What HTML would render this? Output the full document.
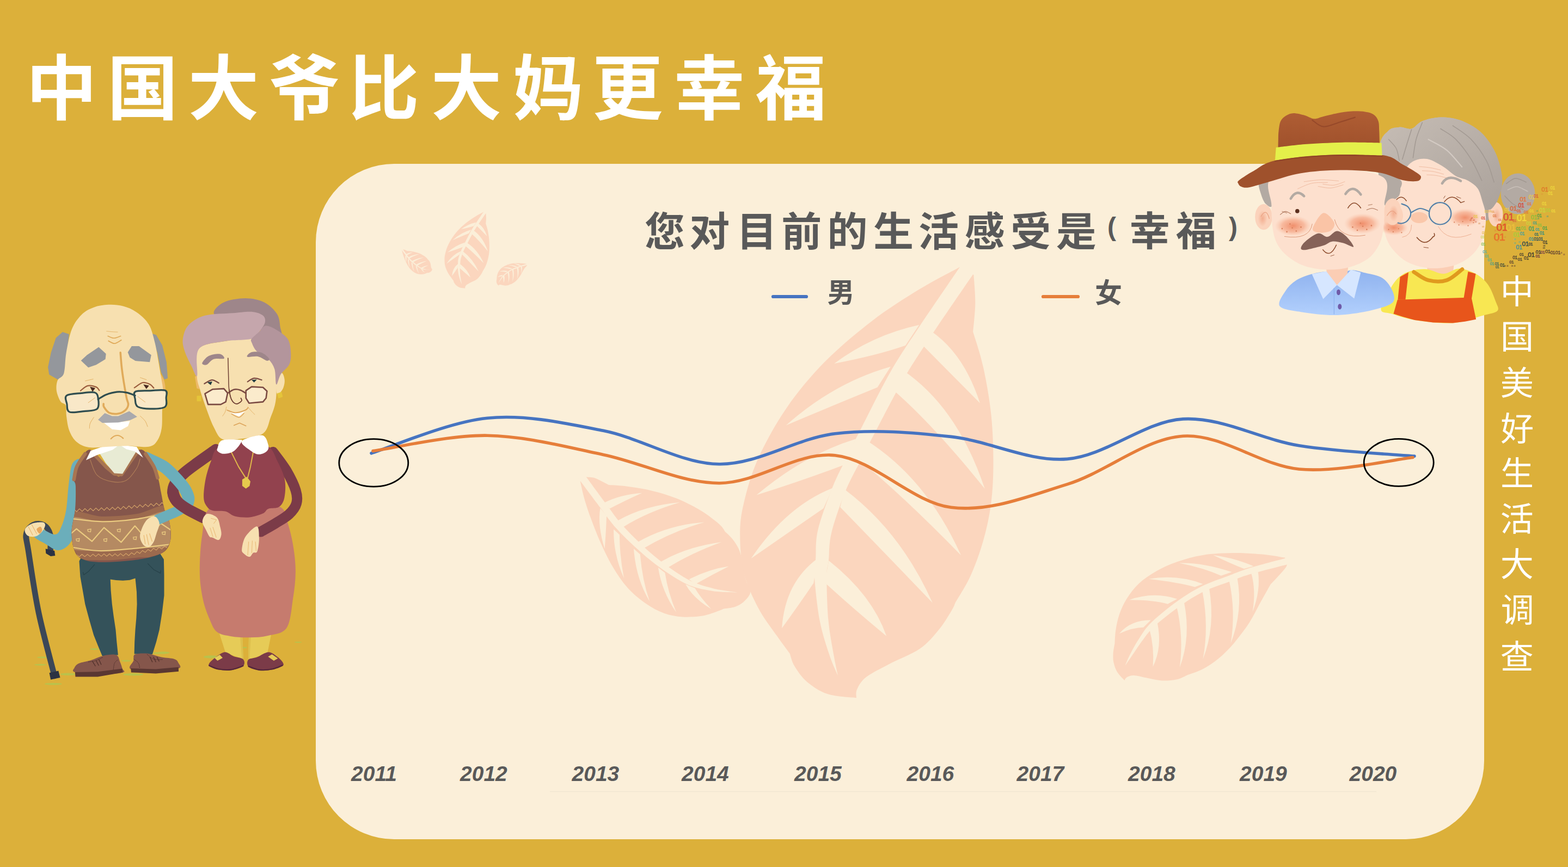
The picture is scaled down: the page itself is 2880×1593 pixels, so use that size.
<!DOCTYPE html>
<html><head><meta charset="utf-8"><title>Chart</title>
<style>
html,body{margin:0;padding:0;background:#DCB03A;}
.t{position:absolute;margin:0;color:transparent;white-space:nowrap;font-weight:700;line-height:1;overflow:hidden;}
body{width:2880px;height:1593px;background:#DCB03A;overflow:hidden;position:relative;font-family:"Liberation Sans",sans-serif;}
#panel{position:absolute;left:580px;top:301px;width:2146px;height:1241px;background:#FBEFD9;border-radius:144px 0 144px 144px;}
svg{position:absolute;left:0;top:0;}
</style></head><body>
<div id="panel"></div>
<h1 class="t" style="left:46px;top:92px;width:1480px;height:134px;font-size:130px;letter-spacing:18px">中国大爷比大妈更幸福</h1>
<h2 class="t" style="left:1182px;top:386px;width:1100px;height:76px;font-size:74px;letter-spacing:10px">您对目前的生活感受是(幸福)</h2>
<span class="t" style="left:1520px;top:512px;width:50px;height:50px;font-size:48px">男</span>
<span class="t" style="left:2012px;top:512px;width:50px;height:50px;font-size:48px">女</span>
<div class="t" style="left:2756px;top:504px;width:62px;height:740px;font-size:60px;line-height:83.4px;white-space:normal;word-break:break-all;font-weight:400">中国美好生活大调查</div>
<div class="t" style="left:640px;top:1400px;width:1950px;height:40px;font-size:38px;font-style:italic;word-spacing:120px">2011 2012 2013 2014 2015 2016 2017 2018 2019 2020</div>
<svg width="2880" height="1593" viewBox="0 0 2880 1593">
<g id="leaves"><defs><g id="lfB"><path d="M1763.3,490.4C1751,497.2 1716.3,514.6 1689.4,531.1C1662.5,547.6 1631.2,567.1 1602,589.4C1572.9,611.7 1540.9,638.4 1514.7,665.1C1488.5,691.8 1465.2,719.9 1444.8,749.5C1424.4,779.1 1405.5,813.6 1392.4,842.7C1379.3,871.8 1371.7,900.9 1366.2,924.2C1360.7,947.5 1359.2,961.1 1359.2,982.4C1359.2,1003.8 1360.7,1030 1366.2,1052.3C1371.7,1074.6 1382.2,1097 1392.4,1116.4C1402.6,1135.8 1417.6,1154.7 1427.3,1168.8C1437.1,1182.8 1446.8,1195.5 1450.6,1200.8C1452.1,1204.7 1454,1215.4 1459.4,1224.1C1464.7,1232.8 1472.5,1244.7 1482.7,1253.2C1492.9,1261.7 1505.5,1270.5 1520.5,1275.3C1535.6,1280.2 1564.2,1281.2 1572.9,1282.3C1573.1,1279.7 1571.2,1272.9 1574.1,1266.6C1577,1260.3 1580.9,1252 1590.4,1244.5C1599.9,1236.9 1614.7,1229.9 1631.2,1221.2C1647.7,1212.4 1673.9,1202.7 1689.4,1192.1C1704.9,1181.4 1714.6,1168.8 1724.3,1157.1C1734,1145.5 1742.6,1130.4 1747.6,1122.2C1752.7,1113.9 1753.4,1110.1 1754.6,1107.6C1759.3,1099.4 1774,1077.1 1782.6,1058.1C1791.1,1039.2 1799.5,1016.4 1805.8,994.1C1812.2,971.8 1817.3,948.5 1820.4,924.2C1823.5,899.9 1824.5,875.7 1824.5,848.5C1824.5,821.3 1823.5,790.3 1820.4,761.2C1817.3,732 1811.4,699 1805.8,673.8C1800.3,648.6 1790.3,620.4 1787.2,609.8C1787.9,601 1791.1,574.8 1791.3,557.3C1791.5,539.9 1788.9,513.7 1788.4,504.9C1784.2,502.5 1767.5,492.8 1763.3,490.4Z" fill="#FBD6BE"/><path d="M1774.4,474L1766.5,485.6C1753.3,505 1709.1,569.2 1687.2,602.2C1665.4,635.1 1652.7,653.4 1635.6,683.2C1618.5,713.1 1597.7,755.7 1584.6,781.3C1571.5,807 1566.1,818.2 1556.9,837C1547.7,855.9 1538.5,871.8 1529.4,894.6C1520.3,917.3 1507.6,951.4 1502.3,973.7C1497.1,995.9 1499.2,1013.8 1498.1,1027.9C1497,1042 1494.5,1039.7 1495.8,1058.5C1497.1,1077.3 1501,1116.4 1505.7,1140.8C1510.4,1165.1 1518.3,1187.8 1523.8,1204.6C1529.4,1221.4 1536.6,1235.4 1539.1,1241.6L1539.1,1241.6C1537.8,1235.1 1534.1,1220 1531.2,1202.8C1528.2,1185.6 1523.5,1162.7 1521.4,1138.6C1519.2,1114.4 1518.3,1075.8 1518.5,1057.8C1518.6,1039.7 1520.6,1043.2 1522,1030.1C1523.4,1017.1 1522,1000.6 1527.1,979.5C1532.1,958.5 1543.6,925.6 1552.4,903.8C1561.1,881.9 1570.4,866.7 1579.7,848.3C1588.9,829.9 1594.5,818.6 1607.8,793.4C1621.1,768.2 1642.3,726.3 1659.4,697C1676.4,667.6 1688.5,650 1710.2,617.3C1731.8,584.7 1776.1,520.4 1789.3,501L1797.1,489.4Z" fill="#FBEFD9"/><path d="M1688.2,596.9Q1602,615.6 1532.2,668Q1609.6,653.4 1663.2,634.8Z" fill="#FBEFD9"/><path d="M1635.8,673.8Q1532.2,702.9 1443.7,781.5Q1539.7,740.8 1611.6,711.7Z" fill="#FBEFD9"/><path d="M1571.8,806.6Q1476.8,835.7 1389.5,909.6Q1474.6,882.6 1552.1,853.5Z" fill="#FBEFD9"/><path d="M1529.3,896.8Q1444.8,930 1379.6,1026.1Q1452.4,975.4 1512.6,933.9Z" fill="#FBEFD9"/><path d="M1501.9,1026.1Q1441.9,1069.8 1436.1,1154.2Q1464.6,1115.2 1494.3,1071.5Z" fill="#FBEFD9"/><path d="M1710.3,608.6Q1770.9,650.5 1800,740.8Q1740.6,680.8 1694.5,634.3Z" fill="#FBEFD9"/><path d="M1659.1,680.8Q1759.3,749.5 1808.8,898Q1713.8,779.8 1639.4,715.6Z" fill="#FBEFD9"/><path d="M1589.2,807.7Q1701,877.6 1765.1,1020.3Q1655.6,907.9 1574.1,841.8Z" fill="#FBEFD9"/><path d="M1551.4,899.2Q1654.4,976.6 1712.7,1107.6Q1609,999.3 1543.1,931.7Z" fill="#FBEFD9"/><path d="M1522.3,1030.2Q1602,1093.1 1628.2,1168.8Q1564.2,1115.8 1514.7,1070.3Z" fill="#FBEFD9"/></g><g id="lfM"><path d="M1077.1,876.5C1079.5,876.8 1086.6,876.6 1091.7,878.1C1096.7,879.6 1102.9,883.3 1107.4,885.5C1111.9,887.7 1116.7,890.2 1118.6,891.1C1124.2,891.5 1139.2,892 1152.3,893.8C1165.4,895.6 1182.2,898 1197.2,901.7C1212.2,905.3 1227.2,909.5 1242.1,915.6C1257.1,921.6 1273.9,930.2 1287,938C1300.1,945.9 1313.2,956.3 1320.7,962.7C1328.2,969.2 1330.1,974.5 1332,976.9C1334.2,979.1 1341.3,985.1 1345.4,990.4C1349.6,995.6 1353.7,1001.8 1356.7,1008.3C1359.7,1014.9 1361.7,1022.4 1363.4,1029.7C1365.1,1037 1365.3,1045 1366.8,1052.1C1368.3,1059.2 1370.3,1067.8 1372.4,1072.3C1374.4,1076.9 1378,1078.3 1379.1,1079.5C1378.8,1081.7 1379.1,1088.1 1376.9,1092.6C1374.6,1097 1370.1,1102.3 1365.7,1106C1361.2,1109.8 1355.9,1112.9 1349.9,1115C1343.9,1117.1 1333.1,1118 1329.7,1118.6C1326.3,1119.9 1316.6,1124 1309.5,1126.2C1302.4,1128.5 1296.4,1130.7 1287,1131.9C1277.7,1133.1 1264.6,1134.3 1253.4,1133.4C1242.1,1132.6 1230.9,1130.8 1219.7,1126.7C1208.4,1122.6 1197.2,1116.6 1186,1108.7C1174.8,1100.9 1162.4,1090.8 1152.3,1079.5C1142.2,1068.3 1133.6,1055.2 1125.3,1041.3C1117.1,1027.5 1109.6,1011.4 1102.9,996.4C1096.1,981.5 1089.8,964.6 1084.9,951.5C1080.1,938.4 1076.9,928.9 1073.7,917.8C1070.5,906.7 1067.1,890.3 1065.8,884.8C1067.7,883.4 1075.2,877.9 1077.1,876.5Z" fill="#FBD6BE"/><path d="M1057.3,872.4L1065.7,883.6C1071.8,891.7 1091.2,917.9 1102.3,932.4C1113.3,947 1120.6,958 1132,970.8C1143.5,983.6 1157.6,997.1 1171,1009.1C1184.4,1021.1 1196.9,1031.9 1212.2,1042.7C1227.5,1053.5 1246.6,1066.7 1262.8,1073.9C1278.9,1081.1 1293.8,1083.5 1309,1085.9C1324.3,1088.3 1346.9,1088.1 1354.4,1088.5L1354.4,1088.5C1347,1087.3 1324.7,1084.9 1310,1081.2C1295.3,1077.5 1281.7,1074 1266.4,1066.3C1251.1,1058.5 1232.8,1045.5 1218.1,1034.6C1203.5,1023.7 1191.3,1012.8 1178.5,1000.9C1165.7,988.9 1152.2,975.4 1141.1,962.8C1130.1,950.1 1123.3,939.3 1112.5,924.8C1101.7,910.3 1082.3,883.9 1076.3,875.7L1068,864.5Z" fill="#FBEFD9"/><path d="M1109.6,923.7Q1138.8,908.8 1179.2,905.7Q1147.6,919.9 1119.8,934.5Z" fill="#FBEFD9"/><path d="M1134.3,956.7Q1183.7,928.6 1248.9,923Q1189.6,940.3 1144.5,968.4Z" fill="#FBEFD9"/><path d="M1171.4,996Q1226.4,964.5 1293.8,959.4Q1235.2,976.2 1181.6,1007.7Z" fill="#FBEFD9"/><path d="M1214.1,1031.9Q1260.1,1005 1325.2,996Q1268.9,1016.6 1225.7,1043.6Z" fill="#FBEFD9"/><path d="M1265.7,1064.5Q1302.8,1045.4 1338.7,1040.5Q1308.6,1055.6 1277.4,1073.2Z" fill="#FBEFD9"/><path d="M1102.4,933.5Q1097.3,966.8 1110.7,1008.3Q1113.3,972.6 1114.1,947.6Z" fill="#FBEFD9"/><path d="M1127.1,972.4Q1126.5,1018.4 1146,1062.2Q1138.1,1021.4 1137.9,982.6Z" fill="#FBEFD9"/><path d="M1164,1008.3Q1168,1063.4 1193.2,1104.9Q1179.7,1066.3 1175.7,1018.6Z" fill="#FBEFD9"/><path d="M1208.9,1042.7Q1215.2,1085.8 1242.1,1125.1Q1226.9,1088.7 1221.4,1052.6Z" fill="#FBEFD9"/><path d="M1259,1073.5Q1273.6,1099.3 1306.1,1118.8Q1285.2,1096.4 1276.5,1080.8Z" fill="#FBEFD9"/></g><g id="lfR"><path d="M2360,1024.6C2353.9,1023.7 2338.7,1020.4 2323.1,1018.9C2307.5,1017.5 2285.2,1015.9 2266.3,1016.1C2247.3,1016.3 2226.8,1017.2 2209.4,1019.9C2192.1,1022.6 2176.3,1027.3 2162.1,1032.2C2147.9,1037.1 2135.9,1042.6 2124.2,1049.3C2112.5,1055.9 2101.1,1063.5 2092,1072C2082.8,1080.5 2075.3,1090.9 2069.3,1100.4C2063.3,1109.9 2059.3,1119.3 2056,1128.8C2052.7,1138.3 2050.8,1148.4 2049.4,1157.2C2047.9,1166.1 2047.8,1177.7 2047.5,1181.9C2047,1185 2044.9,1194.8 2044.6,1200.8C2044.3,1206.8 2044.3,1212.2 2045.6,1217.8C2046.8,1223.5 2048.9,1229.5 2052.2,1234.9C2055.5,1240.3 2063.3,1247.5 2065.5,1250C2066.2,1249.1 2066.8,1245.9 2069.6,1244.4C2072.5,1242.8 2076.6,1240.8 2082.5,1241C2088.4,1241.1 2096.7,1243.7 2105.2,1245.3C2113.8,1246.9 2124.2,1250 2133.7,1250.4C2143.1,1250.9 2154.2,1249.9 2162.1,1248.2C2170,1246.4 2177.9,1241.5 2181,1240.2C2185.8,1238.4 2200,1234.2 2209.4,1229.2C2218.9,1224.2 2228.4,1218.2 2237.8,1210.3C2247.3,1202.4 2256.8,1192.9 2266.3,1181.9C2275.7,1170.8 2286.5,1156.6 2294.7,1144C2302.9,1131.3 2309,1117.8 2315.5,1106.1C2322,1094.4 2330.5,1079.2 2333.5,1073.9C2336.2,1071 2345,1061.9 2349.6,1056.8C2354.2,1051.8 2358.6,1046.7 2361,1043.6C2363.3,1040.4 2363.3,1038.8 2363.8,1037.9C2363.2,1035.7 2360.7,1026.8 2360,1024.6Z" fill="#FBD6BE"/><path d="M2375.3,1022L2361.7,1025.6C2350.3,1028.7 2310.9,1038.8 2293.1,1044.3C2275.2,1049.7 2269.2,1053 2254.9,1058.4C2240.6,1063.9 2222.5,1069.6 2207.2,1077.2C2191.8,1084.9 2178.3,1093.4 2163,1104.3C2147.7,1115.3 2127.1,1131.7 2115.4,1143C2103.7,1154.3 2099.6,1162.1 2092.9,1172.2C2086.1,1182.3 2079.5,1195 2075.1,1203.6C2070.7,1212.1 2067.9,1220.2 2066.4,1223.5L2066.4,1223.5C2068.4,1220.5 2073.2,1213.5 2078.6,1205.6C2083.9,1197.8 2091.5,1185.7 2098.7,1176.4C2105.9,1167 2109.9,1160.2 2121.6,1149.5C2133.2,1138.8 2153.7,1122.9 2168.7,1112.4C2183.7,1101.9 2196.7,1093.8 2211.7,1086.4C2226.7,1079.1 2244.6,1073.7 2258.7,1068.5C2272.8,1063.2 2278.6,1060.2 2296.3,1055C2314,1049.7 2353.3,1039.9 2364.8,1036.9L2378.3,1033.2Z" fill="#FBEFD9"/><path d="M2302.3,1040.2Q2266.3,1024.6 2228.4,1019.9Q2261.3,1035.7 2285,1045.1Z" fill="#FBEFD9"/><path d="M2262.5,1051.1Q2209.4,1033.2 2165.9,1034.5Q2209.4,1043 2242.8,1057.8Z" fill="#FBEFD9"/><path d="M2209.4,1072.9Q2162.1,1054.9 2110,1063.8Q2162.1,1069.7 2194.7,1078.6Z" fill="#FBEFD9"/><path d="M2162.1,1100.4Q2118.5,1086.2 2074,1102.3Q2118.5,1102.2 2144.8,1109.8Z" fill="#FBEFD9"/><path d="M2113.8,1139.2Q2076.8,1139.2 2056,1163.9Q2081.8,1152.8 2100.2,1152.8Z" fill="#FBEFD9"/><path d="M2298.5,1054Q2307,1085.2 2300.7,1124.1Q2315.6,1085.2 2310.8,1050.8Z" fill="#FBEFD9"/><path d="M2257.7,1067.2Q2270,1123.1 2260.6,1181.9Q2283.6,1123.1 2272.5,1061.6Z" fill="#FBEFD9"/><path d="M2208.5,1086.2Q2220.8,1151.5 2209.4,1211.2Q2233.1,1151.5 2220.8,1079.5Z" fill="#FBEFD9"/><path d="M2161.1,1113.7Q2174.4,1170.5 2166.8,1226.4Q2187.9,1170.5 2174.7,1105.8Z" fill="#FBEFD9"/><path d="M2110.9,1154.4Q2120.4,1189.4 2117.6,1224.9Q2135.2,1189.4 2125.7,1143.8Z" fill="#FBEFD9"/></g></defs>
<use href="#lfM"/><use href="#lfB"/><use href="#lfR"/>
<use href="#lfM" transform="translate(549.6,303.3) scale(0.177)"/>
<use href="#lfB" transform="translate(575.9,302.8) scale(0.177)"/>
<use href="#lfR" transform="translate(551.4,304.3) scale(0.1763)"/></g>
<g id="chart"><line x1="1010" y1="1454.5" x2="2528" y2="1454.5" stroke="#F1E6D1" stroke-width="1.5"/>
<path d="M682,832.8C717.5,822 824,775.1 895,768.2C966,761.3 1037,777.2 1108,791.3C1179,805.4 1250,851.8 1321,852.7C1392,853.6 1463,805.1 1534,796.7C1605,788.3 1676,794.6 1747,802.4C1818,810.2 1889,848.8 1960,843.4C2031,838 2102,774 2173,769.9C2244,765.8 2315.2,807.4 2386,818.8C2456.8,830.2 2562.7,834.9 2598,838.1" fill="none" stroke="#4674C1" stroke-width="5.6" stroke-linecap="round" stroke-linejoin="round"/>
<path d="M685,828.6C720,823.9 824.5,799.1 895,800.2C965.5,801.3 1037,820.8 1108,835.4C1179,850 1250,887.5 1321,887.7C1392,887.9 1463,829.3 1534,836.7C1605,844.1 1676,923.4 1747,932.3C1818,941.2 1889,911.7 1960,889.9C2031,868.1 2102,805.9 2173,801.3C2244,796.6 2315.7,855.5 2386,862C2456.3,868.5 2560.2,844.1 2595,840.5" fill="none" stroke="#E67E3A" stroke-width="5.6" stroke-linecap="round" stroke-linejoin="round"/>
<ellipse cx="686.3" cy="850.4" rx="63.5" ry="43.7" fill="none" stroke="#000" stroke-width="2.8"/>
<ellipse cx="2569.2" cy="849.8" rx="64" ry="43.5" fill="none" stroke="#000" stroke-width="2.8"/>
<line x1="1420" y1="545" x2="1481" y2="545" stroke="#4674C1" stroke-width="6.2" stroke-linecap="round"/>
<line x1="1916" y1="545" x2="1980" y2="545" stroke="#E67E3A" stroke-width="6.2" stroke-linecap="round"/></g>
<g id="years" font-family="'Liberation Sans', sans-serif" font-size="39" font-weight="700" font-style="italic" fill="#595959">
<text x="645" y="1435">2011</text>
<text x="845" y="1435">2012</text>
<text x="1050.5" y="1435">2013</text>
<text x="1252" y="1435">2014</text>
<text x="1459" y="1435">2015</text>
<text x="1665.5" y="1435">2016</text>
<text x="1867.5" y="1435">2017</text>
<text x="2072" y="1435">2018</text>
<text x="2277" y="1435">2019</text>
<text x="2478.5" y="1435">2020</text>
</g>
<g id="subtitle" font-family="'Liberation Sans', 'Noto Sans CJK SC', sans-serif" font-weight="700" fill="#595959">
<text font-size="74" y="451.5" x="1184.1 1266.2 1353 1435.2 1519.6 1604 1687.1 1771.6 1856.2 1939.7">您对目前的生活感受是</text>
<text font-size="48" x="2034" y="433">(</text>
<text font-size="74" y="451" x="2074.7 2159.8">幸福</text>
<text font-size="48" x="2257" y="433">)</text>
<text font-size="50" x="1519.5" y="554.6">男</text>
<text font-size="50" x="2010.9" y="555.9">女</text>
</g>
<g id="title"><text font-family="'Liberation Sans', 'Noto Sans CJK SC', sans-serif" font-size="130" font-weight="700" fill="#FFFFFF" y="208.8" x="47.9 197.1 345.5 494 639.7 791.6 941.7 1087.6 1237.7 1387.6">中国大爷比大妈更幸福</text></g>
<g id="vertical"><text font-family="'Liberation Sans', 'Noto Sans CJK SC', sans-serif" font-size="61" font-weight="400" fill="#FFFFFF" x="2755.8 2755.9 2755.7 2756.2 2756.1 2755.8 2755.7 2756.8 2755.8" y="557.7 641.3 725.7 809.9 891.7 976.2 1059.2 1142.7 1228.8">中国美好生活大调查</text></g>
<g id="couple"><ellipse cx="77.4" cy="1207.8" rx="9.5" ry="1.6" fill="#B9C24C"/>
<ellipse cx="74.2" cy="1221.4" rx="11" ry="1.6" fill="#B9C24C"/>
<ellipse cx="124.7" cy="1238.7" rx="14.2" ry="2.2" fill="#B9C24C"/>
<ellipse cx="173.6" cy="1192.6" rx="8.8" ry="1.6" fill="#B9C24C"/>
<ellipse cx="232" cy="1214.1" rx="9.5" ry="1.6" fill="#B9C24C"/>
<ellipse cx="295.2" cy="1199.9" rx="14.2" ry="1.9" fill="#B9C24C"/>
<ellipse cx="244.7" cy="1239.3" rx="18.9" ry="2.2" fill="#B9C24C"/>
<ellipse cx="97.9" cy="1256.7" rx="15.8" ry="1.9" fill="#B9C24C"/>
<ellipse cx="300.1" cy="1199.2" rx="11.8" ry="2" fill="#B9C24C"/>
<ellipse cx="387.6" cy="1206.9" rx="13.5" ry="2.7" fill="#B9C24C"/>
<ellipse cx="448.2" cy="1189.8" rx="6.1" ry="1.3" fill="#B9C24C"/>
<ellipse cx="547.6" cy="1180" rx="6.7" ry="1" fill="#B9C24C"/>
<path d="M92.5,1012C92.5,1007 94.2,989.9 92.2,982.1C90.2,974.2 85.6,967.7 80.5,964.7C75.4,961.7 66.9,961.4 61.6,964.1C56.2,966.7 49.9,972.5 48.3,980.5C46.7,988.5 48.3,987.8 52.1,1012C55.9,1036.2 63,1087.4 71,1125.7C79,1164 95.2,1222.5 100.1,1241.9" fill="none" stroke="#3B4757" stroke-width="10.6" stroke-linecap="round" stroke-linejoin="round"/>
<path d="M83.7,1008.3 L100.1,1012 L101.3,1020.9 L93.1,1022.1 L84.3,1016.8Z" fill="#2B3242"/>
<path d="M90.6,1236.2 L107.3,1232.4 L110.5,1245 L93.1,1248.8Z" fill="#2B3242"/>
<path d="M162.6,999.4 L145.5,1031 L147.4,1059.4 L151.9,1084.7 L156.3,1109.9 L163.9,1138.3 L172.1,1166.7 L180.3,1187.3 L187.8,1205.3 L216.9,1203.4 L214.4,1179.4 L212.5,1157.3 L208.7,1132 L205.8,1109.9 L203.6,1084.7 L202.7,1064.5 L213.1,1066 L225.7,1066.7 L238.4,1065.7 L248.5,1062.6 L251,1087.8 L251.6,1109.9 L250.4,1135.2 L248.5,1157.3 L247.2,1179.4 L246.6,1201.5 L280,1202.1 L287,1179.4 L292.7,1157.3 L297.7,1125.7 L301.5,1094.1 L301.5,1056.2 L300.9,1027.8 L282.6,999.4Z" fill="#34525A"/>
<path d="M173.6,1037.3 L162.6,1049.9 L153.8,1056.2 L152.5,1051.5" fill="none" stroke="#274249" stroke-width="1.2" stroke-linecap="round" stroke-linejoin="round"/>
<path d="M271.5,1035.7 L282.6,1046.8 L294.6,1053.1 L295.2,1048.4" fill="none" stroke="#274249" stroke-width="1.2" stroke-linecap="round" stroke-linejoin="round"/>
<path d="M137.8,1235C130.7,1232.8 135.5,1229.6 136.8,1226.9C138,1224.2 140.3,1221 145.3,1218.8C150.3,1216.5 159.2,1215.5 166.6,1213.2C174.1,1210.9 182.3,1206.3 190.1,1204.7C198,1203 208.6,1201.5 213.6,1203.4C218.7,1205.3 218.6,1212 220.5,1216.2C222.3,1220.4 223.9,1225.3 224.7,1228.6C225.5,1231.8 232.7,1234 225.1,1235.8C217.6,1237.7 194,1239.8 179.5,1239.7C164.9,1239.5 144.9,1237.1 137.8,1235Z" fill="#85564B"/>
<path d="M137.8,1235 L179.5,1234.3 L224.7,1228.6 L225.6,1235.4 L179.5,1243.5 L138.5,1243.5Z" fill="#5A3732"/>
<path d="M240.3,1229.4C233.5,1226.2 244,1218.5 245.2,1214.1C246.5,1209.6 243.4,1204.7 247.8,1202.5C252.1,1200.3 263.1,1200 271.3,1200.8C279.5,1201.7 288.7,1206 296.9,1207.6C305.1,1209.3 315.2,1209.1 320.4,1210.9C325.5,1212.6 326.6,1215.4 327.8,1218.3C329.1,1221.2 335,1225.7 328.1,1228.1C321.1,1230.6 300.8,1233.1 286.2,1233.3C271.6,1233.5 247.1,1232.6 240.3,1229.4Z" fill="#85564B"/>
<path d="M240.3,1228.1 L286.2,1229.4 L327.8,1225.8 L328.1,1233.7 L286.2,1237.5 L240.9,1235.4Z" fill="#5A3732"/>
<path d="M169.8,1215.1 L175.2,1223.7" fill="none" stroke="#4A2C28" stroke-width="1.1" stroke-linecap="round" stroke-linejoin="round"/>
<path d="M176.3,1213.6 L181.2,1222.6" fill="none" stroke="#4A2C28" stroke-width="1.1" stroke-linecap="round" stroke-linejoin="round"/>
<path d="M182,1212.3 L185.9,1220.9" fill="none" stroke="#4A2C28" stroke-width="1.1" stroke-linecap="round" stroke-linejoin="round"/>
<path d="M275.5,1207.6 L279.8,1216.2" fill="none" stroke="#4A2C28" stroke-width="1.1" stroke-linecap="round" stroke-linejoin="round"/>
<path d="M281.9,1207.2 L286.2,1216.2" fill="none" stroke="#4A2C28" stroke-width="1.1" stroke-linecap="round" stroke-linejoin="round"/>
<path d="M288.3,1207.2 L292.2,1215.1" fill="none" stroke="#4A2C28" stroke-width="1.1" stroke-linecap="round" stroke-linejoin="round"/>
<path d="M162.4,1216.2C164.5,1215.8 170.7,1215.5 175.2,1214.1C179.6,1212.6 186.8,1208.7 189.1,1207.6" fill="none" stroke="#4A2C28" stroke-width="0.8" stroke-linecap="round" stroke-linejoin="round" stroke-dasharray="2 1.6"/>
<path d="M270.2,1202.3C272.2,1203.7 277.1,1209.2 281.9,1210.9C286.7,1212.5 296.2,1211.7 299,1211.9" fill="none" stroke="#4A2C28" stroke-width="0.8" stroke-linecap="round" stroke-linejoin="round" stroke-dasharray="2 1.6"/>
<path d="M208.3,1230.1C208.6,1228.1 209,1221.3 210.4,1218.3C211.8,1215.3 215.8,1213 216.8,1211.9" fill="none" stroke="#4A2C28" stroke-width="0.8" stroke-linecap="round" stroke-linejoin="round" stroke-dasharray="2 1.6"/>
<path d="M245.6,1210.9C247.1,1212.1 252.3,1215.5 254.2,1218.3C256,1221.2 256.3,1226.3 256.7,1227.9" fill="none" stroke="#4A2C28" stroke-width="0.8" stroke-linecap="round" stroke-linejoin="round" stroke-dasharray="2 1.6"/>
<path d="M147.4,843.1C144,842.4 136.1,845 132.6,852.6C129.1,860.2 128.1,875 126.3,888.9C124.4,902.9 123.8,923.1 121.6,936.3C119.3,949.4 116.1,960.2 112.7,967.8C109.3,975.5 107.5,981.5 101,982.1C94.6,982.6 80.8,972.3 74.2,971C67.6,969.7 63.4,971.5 61.6,974.2C59.7,976.8 59.5,982.6 63.1,986.8C66.8,991 76.6,995.4 83.7,999.4C90.8,1003.5 98.9,1010.6 105.8,1011.1C112.6,1011.6 119.7,1007.7 124.7,1002.6C129.7,997.5 133.4,991.5 135.8,980.5C138.1,969.4 138.1,951 138.9,936.3C139.7,921.5 138.1,905.2 140.5,892.1C142.9,878.9 152,865.5 153.1,857.4C154.3,849.2 150.9,843.9 147.4,843.1Z" fill="#6BAEBB"/>
<path d="M45.8,972.6C47,968.9 53.2,964.3 58.4,962.2C63.7,960 73.3,959.2 77.4,959.6C81.5,960.1 83,961.8 83,964.7C83,967.5 80.3,973.2 77.4,976.7C74.4,980.2 69.8,984.3 65.4,985.5C60.9,986.8 54.1,986.4 50.8,984.3C47.6,982.1 44.5,976.3 45.8,972.6Z" fill="#F7E0B0"/>
<path d="M52.1,967.8 L60,983" fill="none" stroke="#E9B873" stroke-width="1.2" stroke-linecap="round" stroke-linejoin="round"/>
<path d="M58.4,964.1 L67.3,980.5" fill="none" stroke="#E9B873" stroke-width="1.2" stroke-linecap="round" stroke-linejoin="round"/>
<path d="M67.3,972.6C67.5,970.5 72.5,967.6 74.2,967.8C75.9,968.1 77.6,972.1 77.4,974.2C77.1,976.3 74.3,980.7 72.6,980.5C70.9,980.2 67,974.7 67.3,972.6Z" fill="#E8A75C"/>
<path d="M396.7,826.3C391.1,830.3 373.3,842.7 363.3,850C353.4,857.3 343.9,863.9 337,870.2C330.1,876.5 325.3,881.9 322.1,887.7C318.9,893.5 317.3,899.4 317.7,904.9C318.2,910.4 320.4,915.6 324.7,920.7C329.1,925.8 336,930.5 344,935.4C352.1,940.4 368.2,948 373,950.5" fill="none" stroke="#7B3B48" stroke-width="21" stroke-linecap="round" stroke-linejoin="round"/>
<path d="M267.7,841.2C273.1,843.9 291.3,851.2 300.2,857C309.1,862.9 314.8,869.6 321.2,876.3C327.7,883 334.6,891.1 338.8,897.4C342.9,903.7 345.1,909.6 346.1,914C347.2,918.4 345.1,922.1 344.9,923.7" fill="none" stroke="#6BAEBB" stroke-width="22" stroke-linecap="round" stroke-linejoin="round"/>
<clipPath id="vestclip"><path d="M162.6,826.4C159.6,827.2 153.7,835.6 150.6,841.6C147.5,847.6 137.1,871.9 135.8,877.9C134.4,883.8 138.7,885.9 138.9,892.7C139.2,899.5 138.8,926.8 138,936.3C137.1,945.8 132,966.1 131.7,974.2C131.3,982.3 133,999.8 134.8,1005.7C136.7,1011.7 142,1022.1 147.4,1025.3C152.9,1028.5 169.5,1032.5 181.5,1032.9C193.6,1033.2 237.4,1030.5 251,1028.5C264.6,1026.5 291.1,1020 298.3,1015.8C305.6,1011.7 311.3,999.4 312.9,993.1C314.4,986.8 312.9,968.2 311.6,961.5C310.3,954.9 304,942.9 302.1,936.3C300.3,929.6 297.3,911.7 295.8,904.7C294.3,897.7 292.1,883.7 289.5,876.3C286.9,868.9 277,847.4 273.7,841.6C270.4,835.8 264.5,827.2 261.1,826.4C257.7,825.6 249.1,829.3 244.7,834.6C240.3,839.9 227.3,867.8 223.2,871.9C219.2,876 215.5,874.3 209.9,870C204.4,865.6 181.4,839.7 175.9,834.6C170.3,829.5 165.5,825.6 162.6,826.4Z"/></clipPath>
<path d="M162.6,826.4C158.4,827.6 155.1,833 150.6,841.6C146.1,850.1 137.7,869.4 135.8,877.9C133.8,886.4 138.5,883 138.9,892.7C139.3,902.4 139.2,922.7 138,936.3C136.8,949.9 132.2,962.6 131.7,974.2C131.1,985.7 132.2,997.2 134.8,1005.7C137.4,1014.3 139.7,1020.8 147.4,1025.3C155.2,1029.8 164.3,1032.4 181.5,1032.9C198.8,1033.4 231.5,1031.3 251,1028.5C270.5,1025.6 288,1021.7 298.3,1015.8C308.7,1009.9 310.7,1002.2 312.9,993.1C315.1,984.1 313.4,971 311.6,961.5C309.8,952.1 304.8,945.7 302.1,936.3C299.5,926.8 297.9,914.7 295.8,904.7C293.7,894.7 293.2,886.8 289.5,876.3C285.8,865.8 278.5,849.9 273.7,841.6C269,833.3 265.9,827.6 261.1,826.4C256.2,825.3 251,827 244.7,834.6C238.4,842.2 229,866 223.2,871.9C217.4,877.8 217.8,876.2 209.9,870C202.1,863.8 183.7,841.9 175.9,834.6C168,827.4 166.8,825.3 162.6,826.4Z" fill="#85564B" />
<g clip-path="url(#vestclip)">
<path d="M124.7,942.6C135.2,931 166.8,948.6 187.8,948.9C208.9,949.2 229.9,947.1 251,944.2C272,941.3 302.6,919.7 314.1,931.5C325.7,943.4 331,999.7 320.4,1015.2C309.9,1030.7 274.1,1022.3 251,1024.7C227.8,1027 202.6,1030.5 181.5,1029.4C160.5,1028.4 134.2,1032.8 124.7,1018.4C115.2,1003.9 114.2,954.2 124.7,942.6Z" fill="#9C6A4E"/>
<path d="M124.7,952.1C135.2,944.4 166.8,958.1 187.8,958.4C208.9,958.6 229.9,956.5 251,953.6C272,950.7 302.8,933.4 314.1,941C325.4,948.6 329.4,988.4 318.9,999.4C308.3,1010.5 273.9,1005.2 251,1007.3C228.1,1009.4 202.6,1012.6 181.5,1012C160.5,1011.5 134.2,1014.2 124.7,1004.2C115.2,994.2 114.2,959.7 124.7,952.1Z" fill="#B58A62"/>
<path d="M124.7,952.1C135.2,953.1 166.8,958.1 187.8,958.4C208.9,958.6 229.9,956.5 251,953.6C272,950.7 303.6,943.1 314.1,941" fill="none" stroke="#EBCB80" stroke-width="2.2" stroke-linecap="round" stroke-linejoin="round"/>
<path d="M124.7,1004.2C134.2,1005.5 160.5,1011.5 181.5,1012C202.6,1012.6 228.1,1009.4 251,1007.3C273.9,1005.2 307.5,1000.7 318.9,999.4" fill="none" stroke="#EBCB80" stroke-width="2.2" stroke-linecap="round" stroke-linejoin="round"/>
<path d="M130.4,980.5 L140.5,971.6 L168.9,994.7 L191,969.4 L222.6,996.3 L247.8,966.3 L269.9,991.5 L295.2,961.5 L314.1,974.2" fill="none" stroke="#EBCB80" stroke-width="2.2" stroke-linecap="round" stroke-linejoin="round"/>
<path d="M135.8,935.3 L140.8,940.1 L145.9,934.8 L150.9,939.6 L156,934.3 L161,939.1 L166.1,933.8 L171.1,938.6 L176.2,933.3 L181.2,938.1 L186.3,932.8 L191.3,937.6 L196.4,932.3 L201.4,937.1 L206.5,931.8 L211.5,936.6 L216.6,931.3 L221.6,936 L226.7,930.4 L231.7,935 L236.8,929.4 L241.8,934 L246.9,928.4 L251.9,932.9 L257,927.4 L262,931.9 L267.1,926.4 L272.1,930.9 L277.2,925.4 L282.2,929.9 L287.3,924.4 L292.3,928.9 L297.4,923.4 L302.4,927.9 L307.5,922.3" fill="none" stroke="#D9A86A" stroke-width="1.1" stroke-linecap="round" stroke-linejoin="round"/>
<path d="M140.5,1018.7 L145.5,1023 L150.6,1018.5 L155.6,1022.8 L160.7,1018.3 L165.7,1022.6 L170.8,1018.1 L175.9,1022.4 L180.9,1017.9 L186,1022.2 L191,1017.7 L196.1,1022 L201.1,1017.5 L206.2,1021.8 L211.2,1017.3 L216.3,1021.6 L221.3,1017.1 L226.4,1021.4 L231.4,1016.9 L236.5,1020.9 L241.5,1015.5 L246.6,1018.9 L251.6,1013.5 L256.7,1016.9 L261.7,1011.5 L266.8,1014.9 L271.8,1009.5 L276.9,1012.9 L281.9,1007.4 L287,1010.8 L292,1005.4 L297.1,1008.8 L302.1,1003.4 L307.2,1006.8" fill="none" stroke="#D9A86A" stroke-width="1.1" stroke-linecap="round" stroke-linejoin="round"/>
<path d="M139.9,990.3 L145.9,989.3 L145.2,994.7 L140.5,993.7Z" fill="none" stroke="#EBCB80" stroke-width="1.3"/>
<path d="M161,972.9 L167,972 L166.4,977.3 L161.6,976.4Z" fill="none" stroke="#EBCB80" stroke-width="1.3"/>
<path d="M190.4,990.6 L196.4,989.6 L195.7,995 L191,994.1Z" fill="none" stroke="#EBCB80" stroke-width="1.3"/>
<path d="M215.3,972.9 L221.3,972 L220.7,977.3 L215.9,976.4Z" fill="none" stroke="#EBCB80" stroke-width="1.3"/>
<path d="M244.7,987.1 L250.7,986.2 L250,991.5 L245.3,990.6Z" fill="none" stroke="#EBCB80" stroke-width="1.3"/>
<path d="M297.7,978 L303.7,977 L303.1,982.4 L298.3,981.4Z" fill="none" stroke="#EBCB80" stroke-width="1.3"/>
</g>
<path d="M156.3,833.7C153.8,837.6 144.5,849.5 141.1,857.4C137.7,865.2 136.7,877.1 135.8,881" fill="none" stroke="#A87552" stroke-width="6.5" stroke-linecap="round" stroke-linejoin="round"/>
<path d="M267.4,833.7C269.9,837.6 278.9,850 282.6,857.4C286.2,864.7 288.3,874.5 289.5,877.9" fill="none" stroke="#A87552" stroke-width="6.5" stroke-linecap="round" stroke-linejoin="round"/>
<path d="M170.5,832.1 L194.2,857.4 L209.9,870.6 L223.2,871.9 L235.2,854.2 L251,832.1" fill="none" stroke="#A87552" stroke-width="6.5" stroke-linecap="round" stroke-linejoin="round"/>
<path d="M165.7,844.7C167.9,849.5 171.5,866.4 178.4,873.1C185.2,879.9 197.8,883.6 206.8,885.1C215.7,886.7 224.7,886.7 232,882.6C239.4,878.5 246.8,867.1 251,860.5C255.2,853.9 256.2,846 257.3,843.1" fill="none" stroke="#B07E58" stroke-width="1.2" stroke-linecap="round" stroke-linejoin="round"/>
<path d="M178.4,825.8 L219.4,816.3 L252.6,825.8 L240.9,844.7 L225.1,870.6 L209.9,869.4 L194.2,851Z" fill="#E8EBD4"/>
<path d="M157.9,845.4 L166.4,828.3 L194.2,818.8 L219.4,816.9 L206.8,826.4 L178.4,835.9Z" fill="#FFFFFF"/>
<path d="M219.4,816.9 L251,821 L263,840.9 L247.8,829.6 L232,825.2Z" fill="#FFFFFF"/>
<path d="M344.9,923.7C342.4,925.9 335.7,933.2 330,936.8C324.3,940.5 317.3,942.7 310.7,945.6C304.1,948.5 293.9,952.9 290.5,954.4" fill="none" stroke="#6BAEBB" stroke-width="19" stroke-linecap="round" stroke-linejoin="round"/>
<path d="M317.7,904.9C318.9,907.5 320.4,915.6 324.7,920.7C329.1,925.8 336,930.5 344,935.4C352.1,940.4 368.2,948 373,950.5" fill="none" stroke="#7B3B48" stroke-width="21" stroke-linecap="round" stroke-linejoin="round"/>
<path d="M402.6,1162.8 L445.3,1169.2 L446.8,1210.9 L414.3,1199.5Z" fill="#E6CB57"/>
<path d="M441,1168.8 L445.3,1169.2 L446.8,1210.9 L444.2,1209.8Z" fill="#DDBF4E"/>
<path d="M457,1170.3 L498.7,1162.8 L491.2,1200.2 L456,1211.9Z" fill="#E6CB57"/>
<path d="M457,1170.3 L460.9,1169.6 L458.3,1211.1 L456,1211.9Z" fill="#DDBF4E"/>
<path d="M383.4,1220.9C384.1,1218.7 386,1215.7 390.8,1211.9C395.6,1208.1 405.8,1199.2 412.2,1198.3C418.6,1197.3 423.6,1203.8 429.3,1205.9C435,1208.1 443.4,1208.1 446.3,1211.1C449.3,1214 450.3,1220.3 446.8,1223.7C443.2,1227 432.5,1230 425,1231.1C417.5,1232.2 407.9,1231.3 401.5,1230.3C395.1,1229.3 389.6,1226.7 386.6,1225.2C383.5,1223.6 382.6,1223.1 383.4,1220.9Z" fill="#7B3B48"/>
<path d="M456,1212.3C458.5,1209.4 465.7,1210 472,1207.6C478.2,1205.3 486.9,1198.3 493.3,1198.3C499.7,1198.3 506,1204.3 510.4,1207.6C514.8,1211 518.7,1215.6 520,1218.3C521.3,1221 521.5,1221.9 518.1,1223.9C514.7,1225.9 506.7,1229 499.7,1230.3C492.7,1231.6 483.4,1232.4 476.2,1231.6C469,1230.7 460,1228.4 456.6,1225.2C453.2,1222 453.4,1215.3 456,1212.3Z" fill="#7B3B48"/>
<path d="M384.4,1223C387.3,1224.1 394.7,1228.2 401.5,1229.4C408.3,1230.6 417.5,1231.3 425,1230.3C432.5,1229.3 442.8,1224.6 446.3,1223.4" fill="none" stroke="#55283A" stroke-width="2.4" stroke-linecap="round" stroke-linejoin="round"/>
<path d="M456.6,1224.3C459.9,1225.4 469,1229.9 476.2,1230.7C483.4,1231.6 492.7,1230.8 499.7,1229.4C506.8,1228.1 515.4,1223.7 518.5,1222.6" fill="none" stroke="#55283A" stroke-width="2.4" stroke-linecap="round" stroke-linejoin="round"/>
<path d="M394,1208.7 L403.6,1203 L409,1208.7 L399.4,1214.1Z" fill="#E6CB57"/>
<path d="M492.3,1206.6 L499.7,1202.3 L510.4,1209.8 L502.9,1214.1Z" fill="#E6CB57"/>
<path d="M386,933.2C372.6,943.3 374.7,962.7 371.5,982C368.3,1001.4 366.6,1029.7 366.8,1049.4C366.9,1069 369.5,1085.2 372.5,1099.9C375.5,1114.6 380.6,1127.4 384.9,1137.6C389.3,1147.8 391.8,1155.9 398.4,1161.1C405,1166.4 414.7,1167.5 424.7,1169.2C434.7,1170.9 447.1,1171.5 458.4,1171.2C469.6,1171 480.7,1170.8 492,1167.9C503.4,1165 518.7,1165.1 526.4,1153.7C534.1,1142.4 535.4,1117.3 538.1,1099.9C540.9,1082.5 542.9,1066.2 542.9,1049.4C542.8,1032.5 540.6,1014.6 537.8,998.9C535.1,983.1 530.5,966.4 526.4,955.1C522.2,943.7 525.4,936.5 512.9,930.8C500.4,925.2 472.8,921 451.6,921.4C430.5,921.8 399.3,923.1 386,933.2Z" fill="#C67B6E"/>
<path d="M501.4,830.5C505.5,836.1 518.7,852.4 525.7,864.2C532.6,876 540.1,891.1 543.2,901.2C546.3,911.3 546.6,917.5 544.5,924.8C542.5,932.1 537.3,938.8 530.7,945C524.2,951.2 514.1,956.5 505.5,961.8C496.9,967.1 483.6,974.4 479.2,977" fill="none" stroke="#7B3B48" stroke-width="19" stroke-linecap="round" stroke-linejoin="round"/>
<path d="M401.1,822.1C391,828 391.6,837.5 387.6,847.3C383.7,857.2 379.8,869.8 377.5,881C375.3,892.2 373.7,906.4 374.2,914.7C374.6,923 377.4,926.9 380.2,930.8C383,934.8 385.4,936.8 391,938.2C396.6,939.7 407.2,937.9 413.9,939.6C420.6,941.3 424,946.6 431.4,948.4C438.8,950.1 449.8,951.2 458.4,950.4C466.9,949.6 476.9,946.2 482.6,943.6C488.3,941.1 487.8,936.9 492.7,934.9C497.6,932.9 507.3,934.9 512.2,931.5C517.2,928.1 520.5,923.1 522.3,914.7C524.1,906.3 525.1,892.2 523,881C520.9,869.8 514.7,857.6 509.5,847.3C504.4,837.1 502.2,825.6 492,819.7C481.8,813.8 463.4,811.6 448.2,812C433.1,812.4 411.2,816.2 401.1,822.1Z" fill="#92424E"/>
<path d="M371.8,957.8C372.2,952.9 375.8,945.4 380.2,944.3C384.7,943.2 394.4,947 398.4,951C402.5,955.1 403.1,963.4 404.5,968.6C405.8,973.7 406.9,978.1 406.5,982C406,985.9 404.4,991.1 401.8,992.1C399.2,993.1 393.8,989.1 391,988.1C388.2,987.1 387.1,988.5 384.9,986.1C382.8,983.6 380.4,978.3 378.2,973.6C376,968.9 371.5,962.7 371.8,957.8Z" fill="#F7E0B0"/>
<path d="M391,968.6 L397.1,987.1" fill="none" stroke="#E9B873" stroke-width="1" stroke-linecap="round" stroke-linejoin="round"/>
<path d="M386,970.2 L391,986.1" fill="none" stroke="#E9B873" stroke-width="1" stroke-linecap="round" stroke-linejoin="round"/>
<path d="M387.6,952.4 L397.7,955.1 L392.7,961.8" fill="none" stroke="#E9B873" stroke-width="1" stroke-linecap="round" stroke-linejoin="round"/>
<path d="M444.2,1009.6C444.7,1004.4 446.3,993.1 450.9,986.1C455.5,979 467.7,966.8 471.8,967.2C476,967.7 475.7,981.1 475.9,988.8C476,996.4 474.3,1008.5 472.5,1013C470.7,1017.5 467.4,1014 465.1,1015.7C462.7,1017.4 461.2,1022.8 458.4,1023.1C455.5,1023.4 450.6,1019.6 448.2,1017.4C445.9,1015.1 443.8,1014.8 444.2,1009.6Z" fill="#F7E0B0"/>
<path d="M456.7,995.5 L455,1019.7" fill="none" stroke="#E9B873" stroke-width="1" stroke-linecap="round" stroke-linejoin="round"/>
<path d="M463.4,993.8 L462.4,1015.7" fill="none" stroke="#E9B873" stroke-width="1" stroke-linecap="round" stroke-linejoin="round"/>
<path d="M469.1,995.5 L470.5,1012.3" fill="none" stroke="#E9B873" stroke-width="1" stroke-linecap="round" stroke-linejoin="round"/>
<path d="M423,827.1 L438.1,857.4 L450.9,877.6" fill="none" stroke="#E0B84A" stroke-width="2" stroke-linecap="round" stroke-linejoin="round"/>
<path d="M465.1,830.5 L460,857.4 L455,877.6" fill="none" stroke="#E0B84A" stroke-width="2" stroke-linecap="round" stroke-linejoin="round"/>
<path d="M444.9,881 L453.3,876 L460,884.4 L458.4,893.1 L451.6,897.8 L444.9,892.8Z" fill="#E6C94D"/>
<path d="M257.3,982.1C258.4,975 263.9,962.3 268.4,956.8C272.8,951.3 280.1,948.1 284.1,948.9C288.2,949.7 292.1,956.3 292.7,961.5C293.2,966.8 289.1,974.7 287.3,980.5C285.5,986.3 284.3,992.2 281.9,996.3C279.6,1000.4 276.4,1004.6 273.1,1005.1C269.8,1005.6 264.7,1003.3 262,999.4C259.4,995.6 256.2,989.2 257.3,982.1Z" fill="#F7E0B0"/>
<path d="M274.7,980.5 L279.4,994.7" fill="none" stroke="#E9B873" stroke-width="1.2" stroke-linecap="round" stroke-linejoin="round"/>
<path d="M269.3,982.1 L273.1,1001" fill="none" stroke="#E9B873" stroke-width="1.2" stroke-linecap="round" stroke-linejoin="round"/>
<path d="M264.2,983.6 L266.8,999.4" fill="none" stroke="#E9B873" stroke-width="1.2" stroke-linecap="round" stroke-linejoin="round"/>
<path d="M115,610.1 L126.9,614.1 L122.9,647.8 L118.8,706.6 L106,697.2 L90.3,688.2 L88.1,674.7 L93.7,647.8 L102.7,620.8Z" fill="#94979C"/>
<path d="M278.9,613 L286.8,615.2 L298,634.3 L305.9,665.7 L308.1,694.9 L302.1,697.2 L295.8,683.7 L289,647.8 L282.3,629.8Z" fill="#94979C"/>
<path d="M291.3,685.9C292.8,683 298.6,691.9 300.7,697.2C302.8,702.4 304.1,710.6 303.8,717.4C303.6,724.1 301.1,733.5 299.4,737.6C297.6,741.7 294.9,745.8 293.5,742.1C292.2,738.3 291.6,724.5 291.3,715.1C290.9,705.8 289.7,688.9 291.3,685.9Z" fill="#EDBA6A"/>
<path d="M199.2,559.8C190.2,560.1 180.5,561.6 172.3,564.7C164,567.8 156.6,571.4 149.8,578.2C143.1,584.9 136.5,593.5 131.9,605.1C127.2,616.7 124.2,634.3 121.7,647.8C119.3,661.3 119.9,677.5 117.3,685.9C114.6,694.4 108.3,693.1 106,698.3C103.8,703.5 102.9,710.8 103.8,717.4C104.6,723.9 108.4,733 111.2,737.6C114,742.2 118.8,740.3 120.6,744.8C122.4,749.3 120.8,756.8 122,764.5C123.1,772.3 124.2,783.5 127.4,791.5C130.5,799.4 134.8,807 140.8,812.1C146.8,817.2 153.6,820.6 163.3,822C173,823.4 187.2,821.1 199.2,820.7C211.2,820.2 222.8,819.3 235.1,819.3C247.5,819.3 264.3,822.3 273.3,820.7C282.3,819 285.1,815.1 289,809.4C293,803.8 295.4,796.3 296.9,787C298.4,777.6 297.5,764.5 298,753.3C298.5,742.1 300.2,729.7 299.8,719.6C299.4,709.5 297.2,701.7 295.8,692.7C294.3,683.7 293.1,676.2 291.3,665.7C289.4,655.3 287.5,641.4 284.5,629.8C281.5,618.2 278.9,605.5 273.3,596.1C267.7,586.8 258.7,579.3 250.9,573.7C243,568.1 234.8,564.8 226.2,562.5C217.6,560.1 208.2,559.4 199.2,559.8Z" fill="#F7E0B0"/>
<path d="M195.8,608.5C197.5,608.7 202.6,609.3 205.9,609.6C209.3,609.9 214.4,610 216.1,610.1" fill="none" stroke="#E0AA5A" stroke-width="0.8" stroke-linecap="round" stroke-linejoin="round"/>
<path d="M198.1,617.5C200,618.1 205.4,621.3 209.3,621.3C213.2,621.3 219.6,618.1 221.7,617.5" fill="none" stroke="#E0AA5A" stroke-width="1.6" stroke-linecap="round" stroke-linejoin="round"/>
<path d="M199.2,626.4C201.1,627.2 206.5,631.4 210.4,631.2C214.4,630.9 220.7,625.9 222.8,624.9" fill="none" stroke="#E0AA5A" stroke-width="1.8" stroke-linecap="round" stroke-linejoin="round"/>
<path d="M148.7,662.4 L159.9,652.3 L181.3,637.7 L194.7,650 L193.6,660.1 L176.8,670.2 L162.2,675.2Z" fill="#94979C"/>
<path d="M234.7,647.3 L241.9,636.1 L255.3,636.1 L277.8,652.3 L275.1,665.3 L248.6,663 L238.5,656.8Z" fill="#94979C"/>
<path d="M221.2,647.8C221.6,652.3 222.5,665.7 223.5,674.7C224.5,683.7 225.8,692.3 227.3,701.7C228.8,711 231.1,723.9 232.4,730.9C233.8,737.8 235.9,739.5 235.6,743.2C235.3,746.9 233.7,750.5 230.6,753.3C227.6,756.1 222.2,759.2 217.2,760C212.1,760.9 204.7,760.3 200.3,758.3C196,756.2 192.6,750.4 190.9,747.7C189.2,745 190.3,743 190.2,742.1" fill="none" stroke="#E0AA5A" stroke-width="3.6" stroke-linecap="round" stroke-linejoin="round"/>
<path d="M148,717.8C150.2,716.3 156.3,710 161,708.9C165.8,707.7 173.2,709.7 176.8,711.1C180.3,712.5 181.4,716.3 182.4,717.4" fill="none" stroke="#9A5B3C" stroke-width="2.2" stroke-linecap="round" stroke-linejoin="round"/>
<path d="M165.1,710.6 L175,712.9 L170,720.1Z" fill="#4A2A22"/>
<path d="M246.8,712.4C249.4,710.9 257.3,704.1 262.1,703C266.9,702 272.2,704.5 275.6,706.2C278.9,707.8 281.2,711.8 282.3,712.9" fill="none" stroke="#9A5B3C" stroke-width="2.2" stroke-linecap="round" stroke-linejoin="round"/>
<path d="M263.2,706.2 L273.8,708.4 L268.8,714.7Z" fill="#4A2A22"/>
<path d="M156.6,699.9C159,699.3 168.7,697.1 171.1,696.5" fill="none" stroke="#E0AA5A" stroke-width="0.9" stroke-linecap="round" stroke-linejoin="round"/>
<path d="M257.6,693.8C259.5,694.4 266.9,697 268.8,697.6" fill="none" stroke="#E0AA5A" stroke-width="0.9" stroke-linecap="round" stroke-linejoin="round"/>
<path d="M122.4,726.8C126.9,723.5 141.3,723.3 149.8,722.3C158.3,721.4 168.3,719.6 173.4,721C178.4,722.4 179.3,725.8 180.1,730.9C181,735.9 182.9,746.9 178.6,751.1C174.3,755.2 162.8,754.6 154.3,755.6C145.8,756.5 132.6,759.1 127.4,756.9C122.1,754.7 123.7,747.1 122.9,742.1C122,737.1 117.9,730.1 122.4,726.8Z" fill="#F9E8C8" stroke="#2F4D4F" stroke-width="3.2" stroke-linejoin="round"/>
<path d="M248.6,719.6C253.2,717.1 266.4,718.2 275.6,717.8C284.7,717.5 298.7,715.2 303.6,717.4C308.6,719.6 305.3,725.8 305.2,730.9C305.1,735.9 307.9,744.3 302.9,747.7C298,751.1 283.9,751.2 275.6,751.1C267.2,751 257.2,750 252.7,747C248.1,744 248.8,737.7 248.2,733.1C247.5,728.5 244,722.2 248.6,719.6Z" fill="#F9E8C8" stroke="#2F4D4F" stroke-width="3.2" stroke-linejoin="round"/>
<path d="M180.1,733.6C182.6,732.2 188.9,727.5 194.7,725.2C200.5,723 208.6,720.7 214.9,720.1C221.3,719.4 227.4,720.3 232.9,721.4C238.4,722.5 245.6,725.9 248.2,726.8" fill="none" stroke="#2F4D4F" stroke-width="3.2" stroke-linecap="round" stroke-linejoin="round"/>
<path d="M162.2,739.8C164.2,738.3 172.5,732.4 174.5,730.9" fill="none" stroke="#E0AA5A" stroke-width="0.9" stroke-linecap="round" stroke-linejoin="round"/>
<path d="M253.1,728.6C255.3,730.3 264.3,737 266.6,738.7" fill="none" stroke="#E0AA5A" stroke-width="0.9" stroke-linecap="round" stroke-linejoin="round"/>
<path d="M190.2,776.2 L205.9,788.8 L221.7,790.6 L235.1,782.9 L238.7,773.5 L217.2,775.8Z" fill="#FFFFFF"/>
<path d="M180.1,771.3 L192.5,758.9 L205.9,764.5 L217.2,764.5 L237.4,755.6 L252,765.7 L239.6,771.7 L217.2,776.2 L188,777.1Z" fill="#A9A9AD"/>
<path d="M203.7,806.3Q214.9,794.2 226.2,805.4" fill="none" stroke="#E0AA5A" stroke-width="2.2" stroke-linecap="round"/>
<path d="M172.3,766.8C171.1,768.7 166.8,774.6 165.5,778C164.2,781.4 164.6,785.5 164.4,787" fill="none" stroke="#E0AA5A" stroke-width="0.9" stroke-linecap="round" stroke-linejoin="round"/>
<path d="M257.6,764.5C259.1,766 264.3,770.3 266.6,773.5C268.8,776.7 270.3,782.1 271.1,783.8" fill="none" stroke="#E0AA5A" stroke-width="0.9" stroke-linecap="round" stroke-linejoin="round"/>
<path d="M392.6,575.2C391.9,569.4 401.5,560 411.2,555.5C420.8,551 438.2,548.1 450.5,548.1C462.9,548.1 475.6,550.8 485.3,555.5C494.9,560.2 503.6,569 508.4,576.3C513.3,583.7 513.7,592.5 514.5,599.5C515.2,606.4 521.8,618 513.1,618C504.3,618 478.3,604.1 462.1,599.5C445.9,594.8 427.4,594.3 415.8,590.2C404.2,586.2 393.4,580.9 392.6,575.2Z" fill="#9E868A"/>
<path d="M357.9,692.1 L363,689.8 L366.7,715.3 L361.4,713.4Z" fill="#EDBA6A"/>
<path d="M364.8,641.2C373.1,630.7 395,630.4 411.2,627.3C427.4,624.2 451.3,620.3 462.1,622.6C472.9,625 470.6,635 476,641.2C481.4,647.3 489.7,653.5 494.5,659.7C499.4,665.9 502.8,670.5 505,678.2C507.2,685.9 507.5,696 507.7,706C507.9,716 507.9,728.4 506.1,738.4C504.4,748.5 501.1,756.6 497.3,766.2C493.5,775.9 492.3,789.7 483.4,796.3C474.5,803 456.5,804.3 444,806.1C431.6,807.8 417.4,810.5 408.8,807C400.3,803.4 397.7,794.2 392.6,784.7C387.6,775.3 383,761.6 378.7,750C374.5,738.4 370,725.3 367.2,715.3C364.3,705.2 362,702.1 361.6,689.8C361.2,677.4 356.6,651.6 364.8,641.2Z" fill="#F7E0B0"/>
<path d="M507.3,693.3C508.7,686.9 515.1,684.2 517.7,685.2C520.3,686.1 522.6,694 522.8,699.1C523,704.1 521.4,711.2 519.1,715.3C516.8,719.3 510.9,727 508.9,723.4C506.9,719.7 505.8,699.6 507.3,693.3Z" fill="#F7E0B0"/>
<path d="M335.9,622.6C337.1,614.5 339.6,604.3 346.3,597.2C353.1,590 362.9,583.5 376.4,579.8C389.9,576.1 413.1,576.3 427.4,575.2C441.7,574 452.8,572.1 462.1,572.8C471.4,573.6 478.9,576.5 483,579.8C487,583.1 487.7,587.6 486.7,592.5C485.6,597.4 480.6,604.2 476.5,609.2C472.4,614.2 473,619.6 462.1,622.6C451.2,625.6 427.3,624.2 411.2,627.3C395,630.4 373.5,630.7 365.3,641.2C357.1,651.7 364.3,684.9 362.1,690.3C359.9,695.7 355.9,681 352.1,673.6C348.3,666.2 342.1,654.3 339.4,645.8C336.7,637.3 334.7,630.7 335.9,622.6Z" fill="#C5A6AC"/>
<path d="M462.1,622.6C464.4,619.2 472.1,613.2 476.5,609.2C480.8,605.2 482.7,599 488.1,598.6C493.4,598.1 501.7,602.4 508.4,606.4C515.1,610.4 524.1,616.1 528.3,622.6C532.6,629.2 533.6,638.1 534.1,645.8C534.7,653.5 534.6,662 531.6,669C528.5,675.9 519.9,681.2 515.8,687.5C511.8,693.7 509.4,708 507.5,706.5C505.6,704.9 506.7,686 504.3,678.2C501.8,670.4 498.1,665.1 492.7,659.7C487.3,654.3 476.9,650.7 471.8,645.8C466.8,640.9 464.2,633.9 462.6,630C461,626.2 459.8,626.1 462.1,622.6Z" fill="#B3959C"/>
<path d="M361.4,727.3 L369.5,726.9 L369.5,737.3 L361.6,737.3Z" fill="#E5C53A"/>
<path d="M509.1,722.7 L517.2,719.9 L519.3,729.2 L511.2,731.9Z" fill="#E5C53A"/>
<path d="M371.3,667.1C372,664.4 377.9,656.7 383.4,653.9C388.9,651.1 399.5,649.6 404.2,650.4C408.9,651.2 413.6,657.2 411.6,658.8C409.7,660.3 398,657.8 392.6,659.7C387.2,661.6 382.8,669.1 379.2,670.3C375.7,671.6 370.6,669.8 371.3,667.1Z" fill="#9E868A"/>
<path d="M454,655.5C452.1,654.2 457.7,648.2 462.1,647C466.6,645.7 475.3,646.1 480.6,648.1C486,650.1 492.5,656.3 494.1,658.8C495.6,661.2 493.3,663.3 489.9,662.7C486.5,662.1 479.7,656.3 473.7,655.1C467.7,653.9 455.9,656.9 454,655.5Z" fill="#9E868A"/>
<path d="M418.8,658.1C419,663.7 419.4,682.6 419.7,692.1C420,701.6 419.8,708.3 420.7,715.3C421.5,722.2 422.8,729.3 425.1,733.8C427.3,738.3 431.2,741.7 434.3,742.1C437.4,742.6 442.2,738.4 443.6,736.6C444.9,734.8 442.6,732.3 442.4,731.5" fill="none" stroke="#6E3F33" stroke-width="1.5" stroke-linecap="round" stroke-linejoin="round"/>
<path d="M375.3,705.1C377.6,703.9 384.7,698.4 389.2,698.1C393.6,697.9 399.8,702.8 401.9,703.7" fill="none" stroke="#7A4A42" stroke-width="2.2" stroke-linecap="round" stroke-linejoin="round"/>
<path d="M380.6,702.5 L389.9,700.9 L387.1,707.4Z" fill="#1F3A40"/>
<path d="M454.7,701.4C456.7,700.3 462.4,695.4 466.7,694.9C471.1,694.4 478.3,697.6 480.6,698.1" fill="none" stroke="#7A4A42" stroke-width="2.2" stroke-linecap="round" stroke-linejoin="round"/>
<path d="M462.1,697.9 L471.8,697.2 L466.7,702.8Z" fill="#1F3A40"/>
<path d="M376.4,723.4 L390.3,715.3 L411.2,714.1 L418.1,722.2 L414.6,738.4 L405.4,743.1 L382.2,743.1Z" fill="#FBEBCC" stroke="#7A4A42" stroke-width="2.6" stroke-linejoin="round"/>
<path d="M451.7,717.6 L462.1,710.6 L483,711.8 L490.4,718.7 L488.7,731.5 L483,738.4 L457.5,740.7 L451.7,731.5Z" fill="#FBEBCC" stroke="#7A4A42" stroke-width="2.6" stroke-linejoin="round"/>
<path d="M418.1,722.7C420,721.5 425.8,716.7 429.7,715.7C433.5,714.7 437.6,715.5 441.3,716.7C444.9,717.8 450,721.7 451.7,722.7" fill="none" stroke="#7A4A42" stroke-width="2.6" stroke-linecap="round" stroke-linejoin="round"/>
<path d="M420.7,715.3C421.4,718.4 422.8,729.3 425.1,733.8C427.3,738.3 431.2,741.7 434.3,742.1C437.4,742.6 442.2,738.4 443.6,736.6C444.9,734.8 442.6,732.3 442.4,731.5" fill="none" stroke="#6E3F33" stroke-width="1.5" stroke-linecap="round" stroke-linejoin="round"/>
<path d="M422.3,758.1 L439,765.3 L450.1,755.8 L439,759.3Z" fill="#FFFFFF"/>
<path d="M417,753.5C419.5,754.3 426.4,758.3 432,758.3C437.6,758.4 446.6,755.3 450.5,753.7C454.5,752.1 454.8,749.7 455.6,748.9" fill="none" stroke="#DDA45A" stroke-width="1.8" stroke-linecap="round" stroke-linejoin="round"/>
<path d="M425.1,760.4C427.4,761.5 435.1,766.9 439,766.7C442.8,766.5 446.7,760.5 448.2,759.3" fill="none" stroke="#DDA45A" stroke-width="1.4" stroke-linecap="round" stroke-linejoin="round"/>
<path d="M429.7,781.5 L440.1,777.3 L451.7,782.4" fill="none" stroke="#DDA45A" stroke-width="1.6" stroke-linecap="round" stroke-linejoin="round"/>
<path d="M415.8,747.7C415.4,749.2 414.6,754.2 413.5,757C412.3,759.7 409.6,763.1 408.8,764.4" fill="none" stroke="#E0AA5A" stroke-width="0.8" stroke-linecap="round" stroke-linejoin="round"/>
<path d="M455.2,747.7C456.3,749 460,753.5 462.1,755.8C464.2,758.1 466.9,760.6 467.9,761.6" fill="none" stroke="#E0AA5A" stroke-width="0.8" stroke-linecap="round" stroke-linejoin="round"/>
<path d="M399.6,823C400.9,819.6 401.4,811.6 407.9,809.1C414.5,806.6 432.9,807.6 439,807.9C445,808.2 445.6,807.2 444,810.7C442.5,814.2 435.2,824.9 429.7,828.7C424.2,832.6 416.1,833.8 411.2,833.8C406.2,833.9 402,831 400,829.2C398.1,827.4 398.3,826.3 399.6,823Z" fill="#FFFFFF"/>
<path d="M444,810.7C447.2,805.8 473,798.7 481.1,799.8C489.2,800.9 491.1,812.3 492.7,817.2C494.2,822 493.1,825.8 490.4,828.7C487.6,831.7 480.7,834.7 476,834.8C471.3,834.8 467.4,833.2 462.1,829.2C456.8,825.2 440.9,815.6 444,810.7Z" fill="#FFFFFF"/></g>
<g id="heads"><defs>
<radialGradient id="blush"><stop offset="0" stop-color="#EF8A66" stop-opacity=".95"/><stop offset=".6" stop-color="#F4A07E" stop-opacity=".6"/><stop offset="1" stop-color="#F9C0A4" stop-opacity="0"/></radialGradient>
<radialGradient id="earg"><stop offset="0" stop-color="#F3AE90"/><stop offset="1" stop-color="#FBD3BC"/></radialGradient>
<linearGradient id="hatg" x1="0" y1="0" x2="0" y2="1"><stop offset="0" stop-color="#B05E34"/><stop offset="1" stop-color="#9C4E2A"/></linearGradient>
<linearGradient id="shirtg" x1="0" y1="0" x2="0" y2="1"><stop offset="0" stop-color="#8FB2EE"/><stop offset="1" stop-color="#B2D0FD"/></linearGradient>
<linearGradient id="hairg" x1="0" y1="0" x2="1" y2="1"><stop offset="0" stop-color="#C6BDB5"/><stop offset="1" stop-color="#ABA29B"/></linearGradient>
</defs>
<ellipse cx="2788" cy="356" rx="31.4" ry="37.6" fill="#B3AAA3"/>
<path d="M2766.6,337.5C2769.4,335.9 2777.4,328.2 2783.5,327.7C2789.6,327.2 2799.8,333.5 2803.1,334.7" fill="none" stroke="#A0978F" stroke-width="1.5" stroke-linecap="round" stroke-linejoin="round"/>
<path d="M2763.8,360C2766.2,362.3 2772.2,369.8 2777.9,374C2783.5,378.2 2794.2,383.4 2797.5,385.2" fill="none" stroke="#A0978F" stroke-width="1.5" stroke-linecap="round" stroke-linejoin="round"/>
<path d="M2769.4,348.8C2772.2,347.8 2780.2,342.7 2786.3,343.1C2792.4,343.6 2802.6,350.2 2805.9,351.6" fill="none" stroke="#C9C0B9" stroke-width="1.5" stroke-linecap="round" stroke-linejoin="round"/>
<path d="M2533.7,320.7C2525.4,315.1 2533.9,294.5 2534.2,284.2C2534.6,273.9 2533.6,266 2535.9,258.9C2538.3,251.9 2542.6,246.3 2548.3,242.1C2554,237.9 2562.8,234.6 2570.2,233.7C2577.6,232.7 2585.6,238.4 2592.6,236.5C2599.6,234.6 2603.4,226 2612.3,222.5C2621.2,218.9 2634.3,215.7 2645.9,215.4C2657.6,215.2 2670.3,216.6 2682.4,221C2694.6,225.5 2708.6,233 2718.9,242.1C2729.2,251.2 2737.9,264.1 2744.2,275.8C2750.5,287.5 2754.4,301.5 2756.8,312.3C2759.2,323 2759.8,331 2758.8,340.3C2757.7,349.7 2753.3,359 2750.4,368.4C2747.5,377.8 2746.6,390.9 2741.4,396.5C2736.1,402.1 2731.1,411.4 2718.9,402.1C2706.8,392.7 2690.9,354.4 2668.4,340.3C2645.9,326.3 2606.7,321.2 2584.2,317.9C2561.7,314.6 2542,326.3 2533.7,320.7Z" fill="url(#hairg)"/>
<ellipse cx="2747" cy="393.7" rx="13.5" ry="22.5" fill="#FBD3BC"/>
<ellipse cx="2749.2" cy="396.5" rx="7.3" ry="14" fill="url(#earg)"/>
<path d="M2619.3,480.7 L2671.2,480.7 L2668.4,504.5 L2645.9,510.1 L2623.5,505.9Z" fill="#FBCDB4"/>
<path d="M2570.2,334.7C2575.8,324.4 2579.1,313.4 2584.2,306.7C2589.3,299.9 2594.5,296.4 2601,294C2607.6,291.7 2615.1,290.5 2623.5,292.6C2631.9,294.7 2643.1,301.5 2651.6,306.7C2660,311.8 2666.5,319.3 2674,323.5C2681.5,327.7 2689.8,328.2 2696.5,331.9C2703.1,335.7 2709.6,339.9 2713.9,345.9C2718.2,352 2719.8,360 2722.3,368.4C2724.8,376.8 2728.6,385.7 2729,396.5C2729.5,407.2 2728.6,421.7 2725.1,432.9C2721.6,444.2 2715.7,455.3 2708.3,463.8C2700.8,472.3 2690.6,479.3 2680.2,484C2669.8,488.8 2657.3,491.3 2645.9,492.5C2634.6,493.6 2623.4,493.2 2612.3,490.8C2601.1,488.3 2588.9,484.2 2579.1,477.9C2569.4,471.5 2560,461.5 2553.9,452.6C2547.8,443.7 2544.8,433.9 2542.7,424.5C2540.5,415.2 2539.7,405.8 2541,396.5C2542.3,387.1 2545.7,378.7 2550.5,368.4C2555.4,358.1 2564.6,345 2570.2,334.7Z" fill="#FDE0CE"/>
<path d="M2535.9,284.2C2538.4,271.1 2542.6,250.5 2548.3,242.1C2554,233.7 2562.8,234.6 2570.2,233.7C2577.6,232.7 2585.6,238.4 2592.6,236.5C2599.6,234.6 2603.4,226 2612.3,222.5C2621.2,218.9 2634.3,215.7 2645.9,215.4C2657.6,215.2 2670.3,216.6 2682.4,221C2694.6,225.5 2708.6,233 2718.9,242.1C2729.2,251.2 2737.9,264.1 2744.2,275.8C2750.5,287.5 2754.4,301.5 2756.8,312.3C2759.2,323 2759.8,331 2758.8,340.3C2757.7,349.7 2754.2,360.9 2750.4,368.4C2746.5,375.9 2740.1,385.2 2735.8,385.2C2731.5,385.2 2728,374.9 2724.5,368.4C2721,361.8 2719.4,352.1 2714.7,345.9C2710,339.8 2703.2,335.2 2696.5,331.3C2689.7,327.5 2681.5,327.1 2674,322.9C2666.5,318.7 2660,311.2 2651.6,306.1C2643.1,300.9 2632.4,294.1 2623.5,292.1C2614.6,290 2605.2,291.8 2598.2,294C2591.2,296.2 2585.8,300.3 2581.4,305.2C2576.9,310.2 2573.9,318.6 2571.6,323.5C2569.2,328.4 2573.7,335.2 2567.4,334.7C2561,334.3 2538.9,329.1 2533.7,320.7C2528.4,312.3 2533.5,297.3 2535.9,284.2Z" fill="url(#hairg)"/>
<path d="M2592.6,237.9C2591.2,242.3 2587,255.4 2584.2,264.6C2581.4,273.7 2577.2,287.9 2575.8,292.6" fill="none" stroke="#A39A93" stroke-width="1.6" stroke-linecap="round" stroke-linejoin="round"/>
<path d="M2612.3,225.3C2610.4,230.4 2603.8,245.4 2601,256.1C2598.2,266.9 2596.4,284.2 2595.4,289.8" fill="none" stroke="#A39A93" stroke-width="1.6" stroke-linecap="round" stroke-linejoin="round"/>
<path d="M2645.9,236.5C2650.6,239.8 2664.7,246.8 2674,256.1C2683.4,265.5 2694.1,280 2702.1,292.6C2710,305.2 2718.4,325.4 2721.7,331.9" fill="none" stroke="#A39A93" stroke-width="1.6" stroke-linecap="round" stroke-linejoin="round"/>
<path d="M2668.4,230.9C2674,235.1 2691.8,245.4 2702.1,256.1C2712.4,266.9 2723.1,282.3 2730.1,295.4C2737.2,308.5 2741.8,328.2 2744.2,334.7" fill="none" stroke="#A39A93" stroke-width="1.6" stroke-linecap="round" stroke-linejoin="round"/>
<path d="M2623.5,256.1C2629.1,259.4 2646.9,267.4 2657.2,275.8C2667.5,284.2 2680.6,301.5 2685.2,306.7" fill="none" stroke="#D3CAC3" stroke-width="2.2" stroke-linecap="round" stroke-linejoin="round"/>
<path d="M2550.5,256.1C2552.9,258.9 2561.3,266.4 2564.6,273C2567.8,279.5 2569.2,291.7 2570.2,295.4" fill="none" stroke="#A39A93" stroke-width="1.4" stroke-linecap="round" stroke-linejoin="round"/>
<path d="M2533.7,320.7C2539.3,316.8 2561.2,328.1 2567.4,334.2C2573.5,340.2 2572.6,351.4 2570.7,357.2C2568.9,363 2560.9,366.5 2556.1,369C2551.4,371.4 2545.8,373.7 2542.1,371.8C2538.4,369.8 2535.1,365.7 2533.7,357.2C2532.3,348.7 2528.1,324.5 2533.7,320.7Z" fill="#B3AAA3"/>
<path d="M2543.5,396.5C2545.4,390.8 2551.2,382 2556.1,379.6C2561,377.3 2569.6,378.7 2573,382.4C2576.3,386.2 2578.2,396.4 2576.3,402.1C2574.5,407.8 2567,414.7 2561.7,416.7C2556.5,418.6 2547.9,417.2 2544.9,413.9C2541.9,410.5 2541.6,402.2 2543.5,396.5Z" fill="#FBD3BC"/>
<path d="M2549.1,396.5C2551,395.1 2557.1,388.5 2560.3,388C2563.6,387.6 2567.4,392.7 2568.8,393.7" fill="none" stroke="#E9A283" stroke-width="1.3" stroke-linecap="round" stroke-linejoin="round"/>
<path d="M2606.7,306.1C2609.9,306.4 2619.7,307 2626.3,308.1C2632.8,309.1 2642.7,311.6 2645.9,312.3" fill="none" stroke="#EDB79C" stroke-width="0.9" stroke-linecap="round" stroke-linejoin="round"/>
<path d="M2612.3,313.7C2615.5,313.9 2625.4,314 2631.9,315.1C2638.5,316.1 2648.3,319.3 2651.6,320.1" fill="none" stroke="#EDB79C" stroke-width="0.9" stroke-linecap="round" stroke-linejoin="round"/>
<path d="M2620.7,321.2C2623.5,321.4 2631.4,321.4 2637.5,322.4C2643.6,323.3 2653.9,326.1 2657.2,326.9" fill="none" stroke="#EDB79C" stroke-width="0.9" stroke-linecap="round" stroke-linejoin="round"/>
<ellipse cx="2690.9" cy="399.8" rx="30.3" ry="16.8" fill="url(#blush)"/>
<ellipse cx="2560.3" cy="418.4" rx="25.8" ry="14" fill="url(#blush)"/>
<ellipse cx="2671.2" cy="408.3" rx="1.1" ry="1.1" fill="#D9805C"/>
<ellipse cx="2679.6" cy="413.3" rx="1.1" ry="1.1" fill="#D9805C"/>
<ellipse cx="2686.6" cy="407.1" rx="1.1" ry="1.1" fill="#D9805C"/>
<ellipse cx="2696.5" cy="414.7" rx="1.1" ry="1.1" fill="#D9805C"/>
<ellipse cx="2706.3" cy="409.1" rx="1.1" ry="1.1" fill="#D9805C"/>
<ellipse cx="2702.1" cy="402.1" rx="1.1" ry="1.1" fill="#D9805C"/>
<ellipse cx="2550.5" cy="421.7" rx="1.1" ry="1.1" fill="#D9805C"/>
<ellipse cx="2558.9" cy="425.9" rx="1.1" ry="1.1" fill="#D9805C"/>
<ellipse cx="2568.8" cy="420.3" rx="1.1" ry="1.1" fill="#D9805C"/>
<ellipse cx="2574.4" cy="427.3" rx="1.1" ry="1.1" fill="#D9805C"/>
<ellipse cx="2606.7" cy="399.8" rx="15.4" ry="10.1" fill="#FAC7AA"/>
<path d="M2641.7,416.1Q2659.3,447.3 2702.1,430.1" fill="none" stroke="#E9A283" stroke-width="0.8" stroke-linecap="round"/>
<path d="M2592.6,413.3Q2592.6,432.9 2575.8,435.8" fill="none" stroke="#E9A283" stroke-width="0.8" stroke-linecap="round"/>
<circle cx="2645.1" cy="392.3" r="20.2" fill="none" stroke="#5280A8" stroke-width="2.2"/>
<path d="M2574.4,374.6C2576.2,375.4 2582.8,376.7 2585.6,379.6C2588.4,382.6 2591.2,388 2591.2,392.3C2591.2,396.5 2588.4,401.8 2585.6,404.9C2582.8,407.9 2578,409.9 2574.4,410.5C2570.8,411.1 2565.7,408.6 2564,408.3" fill="none" stroke="#5280A8" stroke-width="2.2" stroke-linecap="round" stroke-linejoin="round"/>
<path d="M2591.2,390.9C2594,389.5 2602.4,383.4 2608.1,383C2613.7,382.6 2622.3,387.7 2625.2,388.6" fill="none" stroke="#5280A8" stroke-width="2.2" stroke-linecap="round" stroke-linejoin="round"/>
<path d="M2653,370.6Q2667.1,353 2683,372.3" fill="none" stroke="#8B4A2B" stroke-width="1.6" stroke-linecap="round"/>
<path d="M2683,372.3 L2689.7,370.1" fill="none" stroke="#8B4A2B" stroke-width="1.4" stroke-linecap="round" stroke-linejoin="round"/>
<path d="M2675.4,361.4C2676.7,361.8 2681.7,363.7 2683,364.2" fill="none" stroke="#8B4A2B" stroke-width="1" stroke-linecap="round" stroke-linejoin="round"/>
<path d="M2651.6,364.2C2652,363.5 2653.9,360.7 2654.4,360" fill="none" stroke="#8B4A2B" stroke-width="1" stroke-linecap="round" stroke-linejoin="round"/>
<path d="M2563.1,369Q2574,355.5 2583.1,369" fill="none" stroke="#8B4A2B" stroke-width="1.6" stroke-linecap="round"/>
<path d="M2648.8,337Q2659.7,319 2683,332.5" fill="none" stroke="#B3AAA3" stroke-width="4.5" stroke-linecap="round"/>
<path d="M2602.4,436.3Q2617.5,454.8 2631.9,435.2" fill="none" stroke="#8B4A2B" stroke-width="1.7" stroke-linecap="round"/>
<path d="M2631.9,435.2Q2636.4,433.8 2634.2,429" fill="none" stroke="#8B4A2B" stroke-width="1.7" stroke-linecap="round"/>
<path d="M2615.1,454.3C2616.5,454.5 2622.1,455.2 2623.5,455.4" fill="none" stroke="#8B4A2B" stroke-width="1" stroke-linecap="round" stroke-linejoin="round"/>
<path d="M2536.5,568.2C2536,560.7 2547.7,541.1 2553.3,531.2C2558.9,521.3 2563.6,514.3 2570.2,508.7C2576.7,503.1 2584.2,499.8 2592.6,497.5C2601,495.2 2610.9,493.8 2620.7,494.7C2630.5,495.6 2641.7,503.3 2651.6,503.1C2661.4,502.9 2669.8,493.6 2679.6,493.6C2689.4,493.6 2701.6,498.3 2710.5,503.1C2719.4,508 2726.9,514.3 2732.9,522.8C2739,531.2 2744.1,545.6 2747,553.6C2749.9,561.7 2754.1,566.7 2750.4,571C2746.6,575.3 2738.2,575.7 2724.5,579.5C2710.9,583.2 2689.4,592.1 2668.4,593.5C2647.3,594.9 2616.9,590.7 2598.2,587.9C2579.5,585.1 2566.4,579.9 2556.1,576.6C2545.8,573.4 2537,575.8 2536.5,568.2Z" fill="#F8E752"/>
<path d="M2596.8,499.7C2601.3,502.3 2613.4,512.4 2623.5,514.9C2633.5,517.4 2646.8,518.3 2657.2,514.9C2667.6,511.5 2681,498.1 2685.8,494.7" fill="none" stroke="#E09A1E" stroke-width="7" stroke-linecap="round" stroke-linejoin="round"/>
<path d="M2571.6,508.7 L2587,500.3 L2581.4,550.8 L2567.4,550.8Z" fill="#E8551B"/>
<path d="M2696.5,498.9 L2710.5,503.1 L2702.6,550.8 L2688,550.8Z" fill="#E8551B"/>
<path d="M2566.8,550.8 L2702.6,546.6 L2711.1,586.8 L2690.9,590.7 L2668.4,593.5 L2631.9,592.4 L2598.2,587.9 L2575.8,581.7 L2559.5,576.6Z" fill="#E8551B"/>
<path d="M2350.6,562.6C2345.8,556.2 2355.7,543.1 2360.7,535.2C2365.7,527.3 2372.7,520.4 2380.8,515.1C2389,509.8 2400.4,506.2 2409.6,503.6C2418.8,500.9 2427.9,499.3 2436.1,499.3C2444.2,499.3 2450.9,504.1 2458.5,503.6C2466.1,503.1 2473.8,496.9 2481.5,496.4C2489.2,495.9 2495.4,498.5 2504.5,500.7C2513.6,502.9 2528,505 2536.2,509.3C2544.3,513.6 2549.3,519.9 2553.4,526.6C2557.6,533.3 2561.9,543.8 2560.9,549.6C2560,555.5 2557.1,557.8 2547.7,561.7C2538.3,565.6 2520.8,570.3 2504.5,573.2C2488.2,576.1 2469.1,579 2449.9,579C2430.7,579 2406,575.9 2389.5,573.2C2372.9,570.5 2355.4,568.9 2350.6,562.6Z" fill="url(#shirtg)"/>
<path d="M2435.5,489.2 L2476.3,489.2 L2473.5,515.1 L2455.6,524.3 L2438.4,512.8Z" fill="#FBCDB4"/>
<path d="M2409.6,503.6 L2436.1,498.4 L2455.6,523.7 L2430.3,549.6Z" fill="#D6E6FF"/>
<path d="M2481.5,495.5 L2499.4,500.7 L2487.3,548.5 L2455.6,523.7Z" fill="#D6E6FF"/>
<path d="M2450.4,529.5 L2450.4,576.9" fill="none" stroke="#8FB2EE" stroke-width="1.2" stroke-linecap="round" stroke-linejoin="round"/>
<ellipse cx="2458.5" cy="537" rx="3.5" ry="5.2" fill="#6F5AA8"/>
<ellipse cx="2460.8" cy="563.4" rx="3.5" ry="5.2" fill="#6F5AA8"/>
<path d="M2313.2,335.3C2316.9,331.3 2334.3,326.3 2338.3,333.3C2342.2,340.2 2339.3,370.1 2337.1,377C2334.9,383.9 2328.5,378 2325,374.7C2321.6,371.4 2318.4,364 2316.4,357.4C2314.4,350.9 2309.6,339.3 2313.2,335.3Z" fill="#B3AAA3"/>
<path d="M2533.3,318C2538.6,315 2566.4,325.5 2572.4,331C2578.5,336.5 2572.1,344.8 2569.6,351.1C2567,357.4 2561.2,364.5 2556.9,368.9C2552.6,373.4 2546.3,380.9 2543.7,377.6C2541,374.2 2542.5,358.7 2540.8,348.8C2539.1,338.9 2528,321 2533.3,318Z" fill="#B3AAA3"/>
<ellipse cx="2321" cy="398.6" rx="15.8" ry="23.6" fill="#FBD3BC"/>
<ellipse cx="2319" cy="401.4" rx="8.6" ry="15" fill="url(#earg)"/>
<ellipse cx="2557.8" cy="389.1" rx="15.8" ry="24.5" fill="#FBD3BC"/>
<ellipse cx="2559.8" cy="392" rx="8.6" ry="15" fill="url(#earg)"/>
<path d="M2316.1,397.7Q2325.7,380.7 2331.3,401.7" fill="none" stroke="#E9A283" stroke-width="1.2" stroke-linecap="round"/>
<path d="M2547.7,396Q2556.6,381.3 2564.4,393.1" fill="none" stroke="#E9A283" stroke-width="1.2" stroke-linecap="round"/>
<path d="M2337.1,325.2C2319.9,336.2 2335.3,361.2 2335.4,377C2335.5,392.8 2335.9,408.2 2337.7,420.1C2339.5,432.1 2341.5,440.3 2346.3,448.9C2351.1,457.5 2357.8,465.2 2366.4,471.9C2375.1,478.6 2386.1,485.3 2398.1,489.2C2410.1,493.1 2424.9,495.2 2438.4,495.5C2451.8,495.8 2466.2,494.4 2478.6,490.9C2491.1,487.5 2504.1,481.8 2513.2,474.8C2522.3,467.8 2528.7,458 2533.3,448.9C2537.9,439.8 2539.2,432.1 2540.8,420.1C2542.3,408.2 2542.7,392.8 2542.5,377C2542.3,361.2 2557,336.2 2539.6,325.2C2522.3,314.2 2472.1,310.8 2438.4,310.8C2404.6,310.8 2354.3,314.2 2337.1,325.2Z" fill="#FDE0CE"/>
<path d="M2383.7,346.8C2388,345.1 2400.5,338.6 2409.6,336.7C2418.7,334.8 2433.6,335.5 2438.4,335.3" fill="none" stroke="#EDB79C" stroke-width="0.9" stroke-linecap="round" stroke-linejoin="round"/>
<path d="M2395.2,333.8C2400.5,333.3 2416.3,330.6 2426.9,330.4C2437.4,330.2 2453.2,332.1 2458.5,332.4" fill="none" stroke="#EDB79C" stroke-width="0.9" stroke-linecap="round" stroke-linejoin="round"/>
<path d="M2421.1,342.5C2424.9,343 2436.4,345.8 2444.1,345.4C2451.8,344.9 2463.3,340.6 2467.1,339.6" fill="none" stroke="#EDB79C" stroke-width="0.9" stroke-linecap="round" stroke-linejoin="round"/>
<path d="M2429.7,338.2C2433.1,338.5 2443.2,340.9 2449.9,340.2C2456.6,339.5 2466.7,334.9 2470,333.8" fill="none" stroke="#EDB79C" stroke-width="0.9" stroke-linecap="round" stroke-linejoin="round"/>
<path d="M2370.8,364.9Q2381.5,346.5 2395.2,360.3" fill="none" stroke="#B3AAA3" stroke-width="4.6" stroke-linecap="round"/>
<path d="M2471.4,356.3Q2484.5,337.3 2499.4,357.4" fill="none" stroke="#B3AAA3" stroke-width="4.6" stroke-linecap="round"/>
<ellipse cx="2375.1" cy="415" rx="33.9" ry="19" fill="url(#blush)"/>
<ellipse cx="2502.2" cy="410.9" rx="33.9" ry="19" fill="url(#blush)"/>
<ellipse cx="2354.9" cy="420.1" rx="1.3" ry="1.3" fill="#D9805C"/>
<ellipse cx="2363.6" cy="425.9" rx="1.3" ry="1.3" fill="#D9805C"/>
<ellipse cx="2373.6" cy="418.7" rx="1.3" ry="1.3" fill="#D9805C"/>
<ellipse cx="2380.8" cy="424.5" rx="1.3" ry="1.3" fill="#D9805C"/>
<ellipse cx="2389.5" cy="417.3" rx="1.3" ry="1.3" fill="#D9805C"/>
<ellipse cx="2369.3" cy="411.5" rx="1.3" ry="1.3" fill="#D9805C"/>
<ellipse cx="2484.4" cy="417.3" rx="1.3" ry="1.3" fill="#D9805C"/>
<ellipse cx="2493" cy="423" rx="1.3" ry="1.3" fill="#D9805C"/>
<ellipse cx="2503.1" cy="415.8" rx="1.3" ry="1.3" fill="#D9805C"/>
<ellipse cx="2510.3" cy="421.6" rx="1.3" ry="1.3" fill="#D9805C"/>
<ellipse cx="2518.9" cy="414.4" rx="1.3" ry="1.3" fill="#D9805C"/>
<ellipse cx="2498.8" cy="410.1" rx="1.3" ry="1.3" fill="#D9805C"/>
<path d="M2430.3,391.4C2423.7,393.3 2412,414.1 2411,420.1C2410.1,426.2 2418.9,427.1 2424.6,427.6C2430.2,428.2 2440.4,426.8 2444.7,423.6C2449,420.4 2452.8,414 2450.4,408.6C2448.1,403.3 2436.9,389.5 2430.3,391.4Z" fill="#FAC4A6"/>
<path d="M2359.3,434.5Q2405.7,441.4 2410.2,411.5" fill="none" stroke="#D8906E" stroke-width="0.9" stroke-linecap="round"/>
<path d="M2451.3,403.5Q2460.7,440.9 2507.4,432.2" fill="none" stroke="#D8906E" stroke-width="0.9" stroke-linecap="round"/>
<circle cx="2382.8" cy="387.9" r="3.8" fill="#5B2E1E"/>
<path d="M2475.8,382.2Q2487,363.8 2499.4,382.2" fill="none" stroke="#8B4A2B" stroke-width="1.6" stroke-linecap="round"/>
<path d="M2351.5,394.3C2353,393.3 2357.5,388.7 2360.7,388.5C2363.9,388.3 2369.1,392.1 2370.8,392.8" fill="none" stroke="#8B4A2B" stroke-width="0.9" stroke-linecap="round" stroke-linejoin="round"/>
<path d="M2354.9,388.5C2356.4,389 2362.1,390.9 2363.6,391.4" fill="none" stroke="#8B4A2B" stroke-width="0.7" stroke-linecap="round" stroke-linejoin="round"/>
<path d="M2510.3,385.6C2512,385.1 2517,382.7 2520.4,382.8C2523.7,382.8 2528.7,385.6 2530.4,386.2" fill="none" stroke="#8B4A2B" stroke-width="0.8" stroke-linecap="round" stroke-linejoin="round"/>
<path d="M2513.2,377C2514.4,376.8 2519.2,375.8 2520.4,375.6" fill="none" stroke="#8B4A2B" stroke-width="0.7" stroke-linecap="round" stroke-linejoin="round"/>
<path d="M2389.5,455.2C2389.9,452.6 2392.8,447.6 2398.1,443.2C2403.4,438.8 2414.4,430.1 2421.1,428.8C2427.8,427.4 2432.6,435.8 2438.4,435.1C2444.1,434.4 2449.9,424.6 2455.6,424.5C2461.4,424.4 2467.8,429.7 2472.9,434.5C2478,439.4 2487.1,451.5 2486.1,453.5C2485.2,455.5 2473.7,448.2 2467.1,446.6C2460.6,445 2452.8,443.1 2447,443.7C2441.2,444.4 2437.9,448.7 2432.6,450.6C2427.3,452.6 2421.6,453.8 2415.4,455.2C2409.1,456.7 2399.5,459.3 2395.2,459.3C2390.9,459.3 2389,457.9 2389.5,455.2Z" fill="#866258"/>
<path d="M2429.7,458.7Q2442.7,475.7 2454.5,450.1" fill="none" stroke="#8B4A2B" stroke-width="1.4" stroke-linecap="round"/>
<path d="M2444.1,470.5C2445.2,470.2 2449.4,468.8 2450.4,468.5" fill="none" stroke="#8B4A2B" stroke-width="0.9" stroke-linecap="round" stroke-linejoin="round"/>
<path d="M2274.4,337.3C2273.7,335.3 2271.3,334.9 2276.1,331C2280.9,327 2292.2,319.7 2303.2,313.7C2314.1,307.7 2319.5,300.3 2342,295C2364.5,289.7 2405.5,283.7 2438.4,282.1C2471.2,280.4 2516,281.6 2539.1,284.9C2562.1,288.3 2565.4,296.4 2576.5,302.2C2587.5,308 2599.7,315.3 2605.2,319.5C2610.8,323.6 2610.3,324.7 2609.8,326.9C2609.3,329.1 2607.9,332 2602.3,332.7C2596.8,333.4 2588,333.6 2576.5,331C2564.9,328.4 2552.5,320.2 2533.3,317.2C2514.1,314.1 2485.4,312.4 2461.4,312.6C2437.4,312.7 2411,314.8 2389.5,318.3C2367.9,321.9 2347.7,329.5 2331.9,333.8C2316.1,338.2 2303.2,342.7 2294.5,344.2C2285.9,345.7 2283.5,344.2 2280.1,343C2276.8,341.9 2275.1,339.3 2274.4,337.3Z" fill="#9F512C"/>
<path d="M2347.4,278.8C2347.5,275.4 2347.6,264.6 2347.8,258.3C2348,252.1 2347.7,247.2 2348.5,241.2C2349.2,235.3 2349.9,227.3 2352.2,222.5C2354.6,217.6 2358.5,214.6 2362.5,212.2C2366.5,209.8 2370.4,208 2376.1,207.9C2381.8,207.9 2390.4,210.2 2396.6,211.9C2402.9,213.6 2408,217.8 2413.7,218.2C2419.4,218.5 2423.7,215.6 2430.8,213.9C2437.9,212.2 2447.9,209.5 2456.4,207.9C2465,206.4 2473.5,204.9 2482,204.5C2490.6,204.1 2500.8,204.4 2507.7,205.4C2514.5,206.4 2519,207.6 2523,210.5C2527,213.3 2529.9,217.3 2531.6,222.5C2533.3,227.6 2532.8,231.8 2533.3,241.2C2533.7,250.6 2534.1,272.6 2534.3,278.8C2517,280 2461.9,285.6 2430.8,285.6C2399.7,285.6 2361.3,280 2347.4,278.8Z" fill="url(#hatg)"/>
<path d="M2410.3,220.7C2413.7,222.7 2422.3,232.1 2430.8,232.7C2439.3,233.3 2451.9,227 2461.5,224.2C2471.2,221.3 2484.3,217 2488.9,215.6" fill="none" stroke="#96492A" stroke-width="2.2" stroke-linecap="round" stroke-linejoin="round"/>
<path d="M2343.7,271.1C2352.5,270.1 2376.4,266.7 2396.6,265.1C2416.8,263.6 2441.5,262.2 2465,261.7C2488.4,261.3 2525.4,262.4 2537.5,262.6C2537.7,266.4 2538.5,281.8 2538.7,285.6C2526.4,285.4 2488.6,283.7 2465,283.9C2441.3,284.2 2417.1,285.6 2396.6,287.4C2376.1,289.1 2351.1,293.3 2342,294.5C2342.3,290.6 2343.4,275 2343.7,271.1Z" fill="#E4F04A"/>
<path d="M2342,295.9C2351.1,294.7 2376.1,290.5 2396.6,288.7C2417.1,287 2441.3,285.6 2465,285.3C2488.6,285 2526.4,286.7 2538.7,287" fill="none" stroke="#8E4527" stroke-width="2" stroke-linecap="round" stroke-linejoin="round"/></g>
<g id="logo"><g font-family="Liberation Sans, sans-serif" letter-spacing="-0.3">
<text x="2761" y="405.1" font-size="18.3" fill="#D9503A" stroke="#D9503A" stroke-width="0.6">01</text>
<text x="2748.4" y="424.2" font-size="19.2" fill="#E0582B" stroke="#E0582B" stroke-width="0.7">01</text>
<text x="2743.7" y="442.1" font-size="19.2" fill="#E8722A" stroke="#E8722A" stroke-width="0.7">01</text>
<text x="2786" y="406.3" font-size="16.7" fill="#F2DA3E" stroke="#F2DA3E" stroke-width="0.6">01</text>
<text x="2766.3" y="423.6" font-size="16.7" fill="#EBBF3C" stroke="#EBBF3C" stroke-width="0.6">01</text>
<text x="2831.3" y="352.1" font-size="11.7" fill="#E07A2A" stroke="#E07A2A" stroke-width="0.4">01</text>
<text x="2847.4" y="347.9" font-size="8.3" fill="#EED83E" stroke="#EED83E" stroke-width="0.3">01</text>
<text x="2843.3" y="358" font-size="8.3" fill="#EED83E" stroke="#EED83E" stroke-width="0.3">01</text>
<text x="2791.4" y="370" font-size="11.7" fill="#E0743A" stroke="#E0743A" stroke-width="0.4">01</text>
<text x="2807.5" y="365.8" font-size="10" fill="#EBC94A" stroke="#EBC94A" stroke-width="0.3">01</text>
<text x="2817" y="362.8" font-size="8.3" fill="#D9603A" stroke="#D9603A" stroke-width="0.3">01</text>
<text x="2788.4" y="380.7" font-size="10.8" fill="#D9473A" stroke="#D9473A" stroke-width="0.4">01</text>
<text x="2805.1" y="377.1" font-size="7.5" fill="#E0743A" stroke="#E0743A" stroke-width="0.3">01</text>
<text x="2831.9" y="377.1" font-size="8.3" fill="#EED83E" stroke="#EED83E" stroke-width="0.3">01</text>
<text x="2773.5" y="387.3" font-size="11.7" fill="#D9683A" stroke="#D9683A" stroke-width="0.4">01</text>
<text x="2763.4" y="388.4" font-size="8.3" fill="#EBC94A" stroke="#EBC94A" stroke-width="0.3">01</text>
<text x="2786" y="389.6" font-size="7.5" fill="#D9603A" stroke="#D9603A" stroke-width="0.3">01</text>
<text x="2799.1" y="392" font-size="7.5" fill="#E0743A" stroke="#E0743A" stroke-width="0.3">01</text>
<text x="2809.3" y="389.6" font-size="7.5" fill="#EED83E" stroke="#EED83E" stroke-width="0.3">01</text>
<text x="2827.2" y="389.6" font-size="10.8" fill="#C9D940" stroke="#C9D940" stroke-width="0.4">01</text>
<text x="2838.5" y="389" font-size="9.2" fill="#B5CF3A" stroke="#B5CF3A" stroke-width="0.3">01</text>
<text x="2849.2" y="390.2" font-size="7.5" fill="#EED83E" stroke="#EED83E" stroke-width="0.3">01</text>
<text x="2811.7" y="402.8" font-size="10.8" fill="#8DBF3A" stroke="#8DBF3A" stroke-width="0.4">01</text>
<text x="2823" y="399.2" font-size="8.3" fill="#4FA04A" stroke="#4FA04A" stroke-width="0.3">01</text>
<text x="2803.3" y="412.9" font-size="9.2" fill="#C9D940" stroke="#C9D940" stroke-width="0.3">01</text>
<text x="2815.2" y="412.3" font-size="7.5" fill="#3FA08A" stroke="#3FA08A" stroke-width="0.3">01</text>
<text x="2824.2" y="415.9" font-size="7.5" fill="#8DBF3A" stroke="#8DBF3A" stroke-width="0.3">01</text>
<text x="2784.2" y="423" font-size="8.3" fill="#5FAF4A" stroke="#5FAF4A" stroke-width="0.3">01</text>
<text x="2793.2" y="421.8" font-size="9.2" fill="#8DBF3A" stroke="#8DBF3A" stroke-width="0.3">01</text>
<text x="2807.5" y="423.6" font-size="10" fill="#2F9F6A" stroke="#2F9F6A" stroke-width="0.3">01</text>
<text x="2820" y="424.2" font-size="7.5" fill="#3FA0A0" stroke="#3FA0A0" stroke-width="0.3">01</text>
<text x="2833.1" y="421.8" font-size="8.3" fill="#3FA04A" stroke="#3FA04A" stroke-width="0.3">01</text>
<text x="2779.5" y="435" font-size="10.8" fill="#A5CF3A" stroke="#A5CF3A" stroke-width="0.4">01</text>
<text x="2791.4" y="432" font-size="8.3" fill="#3FA0A0" stroke="#3FA0A0" stroke-width="0.3">01</text>
<text x="2818.2" y="433.2" font-size="7.5" fill="#2F6F6A" stroke="#2F6F6A" stroke-width="0.3">01</text>
<text x="2827.8" y="430.8" font-size="8.3" fill="#2F8F8A" stroke="#2F8F8A" stroke-width="0.3">01</text>
<text x="2808.1" y="442.1" font-size="8.3" fill="#2F8FA0" stroke="#2F8FA0" stroke-width="0.3">01</text>
<text x="2817" y="441.5" font-size="8.3" fill="#2F4F5A" stroke="#2F4F5A" stroke-width="0.3">01</text>
<text x="2825.4" y="441.5" font-size="8.3" fill="#2F4F5A" stroke="#2F4F5A" stroke-width="0.3">01</text>
<text x="2795.6" y="452.3" font-size="11.7" fill="#2F4A4F" stroke="#2F4A4F" stroke-width="0.4">01</text>
<text x="2807.5" y="451.1" font-size="7.5" fill="#3A4040" stroke="#3A4040" stroke-width="0.3">01</text>
<text x="2784.2" y="457.6" font-size="10.8" fill="#3F90A0" stroke="#3F90A0" stroke-width="0.4">01</text>
<text x="2833.7" y="447.5" font-size="8.3" fill="#3A3A30" stroke="#3A3A30" stroke-width="0.3">01</text>
<text x="2820.6" y="466" font-size="9.2" fill="#3A3530" stroke="#3A3530" stroke-width="0.3">01</text>
<text x="2829.6" y="466" font-size="7.5" fill="#7A3A4A" stroke="#7A3A4A" stroke-width="0.3">01</text>
<text x="2837.9" y="465.4" font-size="9.2" fill="#4A3A30" stroke="#4A3A30" stroke-width="0.3">01</text>
<text x="2847.4" y="466.6" font-size="8.3" fill="#5A3A30" stroke="#5A3A30" stroke-width="0.3">01</text>
<text x="2856.4" y="466.6" font-size="9.2" fill="#5A3A30" stroke="#5A3A30" stroke-width="0.3">01</text>
<text x="2806.3" y="471.9" font-size="11.7" fill="#3A3A30" stroke="#3A3A30" stroke-width="0.4">01</text>
<text x="2790.8" y="470.1" font-size="7.5" fill="#4A4030" stroke="#4A4030" stroke-width="0.3">01</text>
<text x="2778.3" y="476.1" font-size="8.3" fill="#4A4030" stroke="#4A4030" stroke-width="0.3">01</text>
<text x="2787.8" y="479.1" font-size="7.5" fill="#4A4030" stroke="#4A4030" stroke-width="0.3">01</text>
<text x="2799.1" y="477.3" font-size="8.3" fill="#4A4030" stroke="#4A4030" stroke-width="0.3">01</text>
<text x="2820.6" y="473.1" font-size="7.5" fill="#6A3040" stroke="#6A3040" stroke-width="0.3">01</text>
<text x="2772.3" y="483.9" font-size="7.5" fill="#5A4030" stroke="#5A4030" stroke-width="0.3">01</text>
<text x="2755" y="489.8" font-size="8.3" fill="#3A4A40" stroke="#3A4A40" stroke-width="0.3">01</text>
<text x="2745.5" y="487.4" font-size="7.5" fill="#3A6A60" stroke="#3A6A60" stroke-width="0.3">01</text>
<text x="2736.5" y="487.4" font-size="7.5" fill="#4FA08A" stroke="#4FA08A" stroke-width="0.3">01</text>
<text x="2746.7" y="492.8" font-size="6.7" fill="#3A5A50" stroke="#3A5A50" stroke-width="0.2">01</text>
<text x="2732.3" y="479.7" font-size="7.5" fill="#5FAF8A" stroke="#5FAF8A" stroke-width="0.3">01</text>
<text x="2727" y="472.5" font-size="7.5" fill="#5FB09A" stroke="#5FB09A" stroke-width="0.3">01</text>
<text x="2723.2" y="464.8" font-size="7.5" fill="#5FB0B0" stroke="#5FB0B0" stroke-width="0.3">01</text>
<text x="2720.4" y="450.5" font-size="7.5" fill="#8DBF5A" stroke="#8DBF5A" stroke-width="0.3">01</text>
<text x="2719.8" y="437.9" font-size="6.7" fill="#C9D960" stroke="#C9D960" stroke-width="0.2">01</text>
<text x="2722.2" y="430.2" font-size="6.7" fill="#E8C050" stroke="#E8C050" stroke-width="0.2">01</text>
<text x="2720.4" y="402.8" font-size="7.5" fill="#D9503A" stroke="#D9503A" stroke-width="0.3">01</text>
<text x="2741.9" y="399.2" font-size="6.7" fill="#E0743A" stroke="#E0743A" stroke-width="0.2">01</text>
<text x="2706.7" y="400.4" font-size="7.5" fill="#EBC94A" stroke="#EBC94A" stroke-width="0.3">01</text>
<text x="2727" y="390.8" font-size="6.7" fill="#EBC94A" stroke="#EBC94A" stroke-width="0.2">01</text>
<text x="2752" y="406.3" font-size="5.8" fill="#E0743A" stroke="#E0743A" stroke-width="0.2">01</text>
<text x="2778.3" y="407.5" font-size="6.7" fill="#D9603A" stroke="#D9603A" stroke-width="0.2">01</text>
<text x="2834.3" y="452.9" font-size="4.2" fill="#3A3A30" stroke="#3A3A30" stroke-width="0.1">01</text>
<text x="2833.7" y="457" font-size="4.2" fill="#3A3A30" stroke="#3A3A30" stroke-width="0.1">01</text>
<text x="2762.8" y="489.8" font-size="3" fill="#5A4030" stroke="#5A4030" stroke-width="0.1">01</text>
<text x="2767.5" y="489.8" font-size="3" fill="#5A4030" stroke="#5A4030" stroke-width="0.1">01</text>
<text x="2775.9" y="489.8" font-size="3" fill="#5A4030" stroke="#5A4030" stroke-width="0.1">01</text>
<text x="2780.6" y="489.8" font-size="3" fill="#5A4030" stroke="#5A4030" stroke-width="0.1">01</text>
<text x="2866.5" y="466" font-size="3" fill="#7A4A40" stroke="#7A4A40" stroke-width="0.1">01</text>
<text x="2871.3" y="469" font-size="3" fill="#7A4A40" stroke="#7A4A40" stroke-width="0.1">01</text>
<text x="2734.1" y="390.2" font-size="5.8" fill="#E8B850" stroke="#E8B850" stroke-width="0.2">01</text>
<text x="2740.1" y="390.8" font-size="5" fill="#E8A050" stroke="#E8A050" stroke-width="0.2">01</text>
<text x="2701.9" y="402.2" font-size="3.7" fill="#D9603A" stroke="#D9603A" stroke-width="0.1">01</text>
<text x="2699.5" y="406.3" font-size="3.7" fill="#D9603A" stroke="#D9603A" stroke-width="0.1">01</text>
<text x="2705.5" y="406.3" font-size="3.7" fill="#D9603A" stroke="#D9603A" stroke-width="0.1">01</text>
<text x="2709.1" y="409.3" font-size="3.7" fill="#D9805A" stroke="#D9805A" stroke-width="0.1">01</text>
<text x="2715.6" y="411.7" font-size="3.7" fill="#D9905A" stroke="#D9905A" stroke-width="0.1">01</text>
<text x="2722.2" y="418.3" font-size="4.2" fill="#E0A050" stroke="#E0A050" stroke-width="0.1">01</text>
<text x="2830.7" y="358" font-size="3.3" fill="#E09A3A" stroke="#E09A3A" stroke-width="0.1">01</text>
<text x="2836.7" y="366.4" font-size="3.3" fill="#E0B03A" stroke="#E0B03A" stroke-width="0.1">01</text>
<text x="2821.2" y="389" font-size="3.7" fill="#6FAF5A" stroke="#6FAF5A" stroke-width="0.1">01</text>
<text x="2840.3" y="398.6" font-size="3.7" fill="#4FA08A" stroke="#4FA08A" stroke-width="0.1">01</text>
<text x="2823.6" y="402.8" font-size="3.7" fill="#4FA06A" stroke="#4FA06A" stroke-width="0.1">01</text>
<text x="2780.6" y="440.9" font-size="3.7" fill="#6FBF9A" stroke="#6FBF9A" stroke-width="0.1">01</text>
<text x="2780.6" y="448.1" font-size="3.7" fill="#5FAF9A" stroke="#5FAF9A" stroke-width="0.1">01</text>
<text x="2789" y="445.7" font-size="3.7" fill="#5FAF8A" stroke="#5FAF8A" stroke-width="0.1">01</text>
<text x="2762.8" y="436.8" font-size="3.7" fill="#E0903A" stroke="#E0903A" stroke-width="0.1">01</text>
<text x="2749.6" y="445.1" font-size="3.7" fill="#E0903A" stroke="#E0903A" stroke-width="0.1">01</text>
<text x="2744.9" y="424.8" font-size="3.7" fill="#E08A3A" stroke="#E08A3A" stroke-width="0.1">01</text>
</g></g>
</svg>
</body></html>
